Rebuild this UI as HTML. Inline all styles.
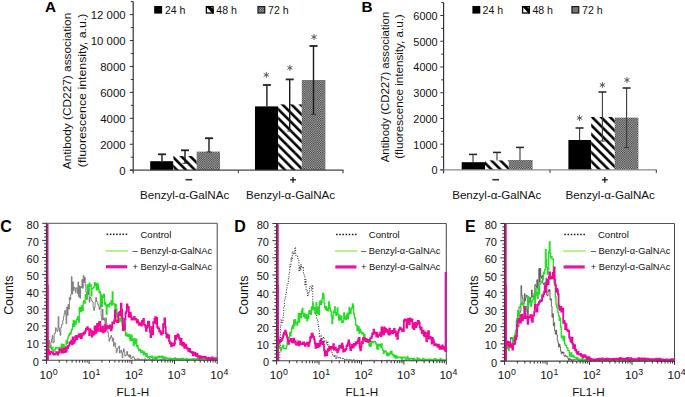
<!DOCTYPE html>
<html><head><meta charset="utf-8"><style>html,body{margin:0;padding:0;background:#fff;overflow:hidden}svg{display:block}text{font-family:"Liberation Sans",sans-serif}</style></head>
<body><svg width="685" height="397" viewBox="0 0 685 397" font-family="Liberation Sans, sans-serif"><defs>
<pattern id="hatch" patternUnits="userSpaceOnUse" width="6.364" height="6.364" patternTransform="rotate(-45)"><rect width="6.364" height="6.364" fill="#fff"/><rect x="3.7" width="2.5" height="6.364" fill="#000"/></pattern>
<pattern id="dots" patternUnits="userSpaceOnUse" width="2.27" height="2.27"><rect width="2.27" height="2.27" fill="#b4b4b4"/><rect width="1.135" height="1.135" fill="#383838"/><rect x="1.135" y="1.135" width="1.135" height="1.135" fill="#383838"/></pattern>
<pattern id="hatchL" patternUnits="userSpaceOnUse" width="8" height="8" patternTransform="rotate(-45)"><rect width="8" height="8" fill="#fff"/><rect width="3" height="8" fill="#000"/></pattern>
<pattern id="dotsL" patternUnits="userSpaceOnUse" width="2" height="2"><rect width="2" height="2" fill="#999"/><rect width="1" height="1" fill="#222"/></pattern>
</defs><rect width="685" height="397" fill="#fff"/><rect x="150.20" y="161.20" width="23.20" height="9.00" fill="#000" />
<rect x="173.40" y="156.00" width="23.30" height="14.20" fill="url(#hatch)" />
<rect x="196.70" y="151.60" width="23.30" height="18.60" fill="url(#dots)" />
<line x1="162.00" y1="154.30" x2="162.00" y2="161.00" stroke="#1a1a1a" stroke-width="1.4" />
<line x1="158.00" y1="154.30" x2="166.00" y2="154.30" stroke="#222" stroke-width="1.8" />
<line x1="185.00" y1="150.30" x2="185.00" y2="163.30" stroke="#1a1a1a" stroke-width="1.4" />
<line x1="181.00" y1="150.30" x2="189.00" y2="150.30" stroke="#222" stroke-width="1.8" />
<line x1="182.50" y1="163.30" x2="187.50" y2="163.30" stroke="#333" stroke-width="1" />
<line x1="209.00" y1="138.20" x2="209.00" y2="152.00" stroke="#1a1a1a" stroke-width="1.4" />
<line x1="205.00" y1="138.20" x2="213.00" y2="138.20" stroke="#222" stroke-width="1.8" />
<line x1="206.50" y1="152.00" x2="211.50" y2="152.00" stroke="#333" stroke-width="1" />
<rect x="255.00" y="106.40" width="23.20" height="63.80" fill="#000" />
<rect x="278.20" y="104.40" width="23.60" height="65.80" fill="url(#hatch)" />
<rect x="301.80" y="80.00" width="23.60" height="90.20" fill="url(#dots)" />
<line x1="266.90" y1="85.00" x2="266.90" y2="106.40" stroke="#1a1a1a" stroke-width="1.4" />
<line x1="262.90" y1="85.00" x2="270.90" y2="85.00" stroke="#222" stroke-width="1.8" />
<line x1="289.70" y1="79.40" x2="289.70" y2="131.00" stroke="#1a1a1a" stroke-width="1.4" />
<line x1="285.70" y1="79.40" x2="293.70" y2="79.40" stroke="#222" stroke-width="1.8" />
<line x1="287.20" y1="131.00" x2="292.20" y2="131.00" stroke="#333" stroke-width="1" />
<line x1="313.50" y1="46.00" x2="313.50" y2="114.40" stroke="#1a1a1a" stroke-width="1.4" />
<line x1="309.50" y1="46.00" x2="317.50" y2="46.00" stroke="#222" stroke-width="1.8" />
<line x1="311.00" y1="114.40" x2="316.00" y2="114.40" stroke="#333" stroke-width="1" />
<path d="M266.30,71.90V77.90M263.70,73.40L268.90,76.40M268.90,73.40L263.70,76.40" stroke="#555" stroke-width="0.95" fill="none"/>
<path d="M289.90,64.80V70.80M287.30,66.30L292.50,69.30M292.50,66.30L287.30,69.30" stroke="#555" stroke-width="0.95" fill="none"/>
<path d="M314.00,34.00V40.00M311.40,35.50L316.60,38.50M316.60,35.50L311.40,38.50" stroke="#555" stroke-width="0.95" fill="none"/>
<line x1="133.20" y1="1.50" x2="133.20" y2="173.60" stroke="#333" stroke-width="1.2" />
<line x1="129.90" y1="170.20" x2="343.50" y2="170.20" stroke="#444" stroke-width="1.2" />
<line x1="238.30" y1="170.20" x2="238.30" y2="173.20" stroke="#333" stroke-width="1" />
<line x1="343.00" y1="170.20" x2="343.00" y2="173.20" stroke="#333" stroke-width="1" />
<line x1="129.90" y1="170.20" x2="133.20" y2="170.20" stroke="#333" stroke-width="1" />
<line x1="130.80" y1="157.23" x2="133.20" y2="157.23" stroke="#333" stroke-width="1" />
<line x1="129.90" y1="144.27" x2="133.20" y2="144.27" stroke="#333" stroke-width="1" />
<line x1="130.80" y1="131.31" x2="133.20" y2="131.31" stroke="#333" stroke-width="1" />
<line x1="129.90" y1="118.34" x2="133.20" y2="118.34" stroke="#333" stroke-width="1" />
<line x1="130.80" y1="105.38" x2="133.20" y2="105.38" stroke="#333" stroke-width="1" />
<line x1="129.90" y1="92.41" x2="133.20" y2="92.41" stroke="#333" stroke-width="1" />
<line x1="130.80" y1="79.44" x2="133.20" y2="79.44" stroke="#333" stroke-width="1" />
<line x1="129.90" y1="66.48" x2="133.20" y2="66.48" stroke="#333" stroke-width="1" />
<line x1="130.80" y1="53.52" x2="133.20" y2="53.52" stroke="#333" stroke-width="1" />
<line x1="129.90" y1="40.55" x2="133.20" y2="40.55" stroke="#333" stroke-width="1" />
<line x1="130.80" y1="27.59" x2="133.20" y2="27.59" stroke="#333" stroke-width="1" />
<line x1="129.90" y1="14.62" x2="133.20" y2="14.62" stroke="#333" stroke-width="1" />
<line x1="130.80" y1="1.66" x2="133.20" y2="1.66" stroke="#333" stroke-width="1" />
<text x="125.60" y="174.60" font-size="11.4" text-anchor="end" font-weight="normal" fill="#111" >0</text>
<text x="125.60" y="148.67" font-size="11.4" text-anchor="end" font-weight="normal" fill="#111" >2000</text>
<text x="125.60" y="122.74" font-size="11.4" text-anchor="end" font-weight="normal" fill="#111" >4000</text>
<text x="125.60" y="96.81" font-size="11.4" text-anchor="end" font-weight="normal" fill="#111" >6000</text>
<text x="125.60" y="70.88" font-size="11.4" text-anchor="end" font-weight="normal" fill="#111" >8000</text>
<text x="125.60" y="44.95" font-size="11.4" text-anchor="end" font-weight="normal" fill="#111" >10 000</text>
<text x="125.60" y="19.02" font-size="11.4" text-anchor="end" font-weight="normal" fill="#111" >12 000</text>
<rect x="154.20" y="6.00" width="7.90" height="7.60" fill="#000" />
<text x="164.90" y="13.60" font-size="10.6" text-anchor="start" font-weight="normal" fill="#111" >24 h</text>
<rect x="206.40" y="6.60" width="6.70" height="6.40" fill="#fff" stroke="#000" stroke-width="1.3"/>
<polygon points="205.80,6.00 210.00,6.00 213.70,9.40 213.70,13.60 212.40,13.60" fill="#000"/>
<text x="216.30" y="13.60" font-size="10.6" text-anchor="start" font-weight="normal" fill="#111" >48 h</text>
<rect x="258.00" y="6.60" width="6.70" height="6.40" fill="url(#dots)" stroke="#222" stroke-width="1.3"/>
<text x="268.00" y="13.60" font-size="10.6" text-anchor="start" font-weight="normal" fill="#111" >72 h</text>
<text transform="translate(71.20,91.00) rotate(-90)" x="0" y="0" font-size="11.8" text-anchor="middle" fill="#111" textLength="156.5" lengthAdjust="spacingAndGlyphs">Antibody (CD227) association</text>
<text transform="translate(85.70,90.40) rotate(-90)" x="0" y="0" font-size="11.8" text-anchor="middle" fill="#111" textLength="153.5" lengthAdjust="spacingAndGlyphs">(fluorescence intensity, a.u.)</text>
<rect x="185.50" y="178.90" width="6.70" height="1.60" fill="#333" />
<line x1="290.10" y1="179.80" x2="295.90" y2="179.80" stroke="#222" stroke-width="1.4" />
<line x1="293.00" y1="176.90" x2="293.00" y2="182.80" stroke="#222" stroke-width="1.4" />
<text x="140.10" y="199.20" font-size="11.5" text-anchor="start" font-weight="normal" fill="#111" textLength="89.1" lengthAdjust="spacingAndGlyphs" >Benzyl-&#945;-GalNAc</text>
<text x="246.00" y="199.20" font-size="11.5" text-anchor="start" font-weight="normal" fill="#111" textLength="89.0" lengthAdjust="spacingAndGlyphs" >Benzyl-&#945;-GalNAc</text>
<text x="44.90" y="12.30" font-size="15.3" text-anchor="start" font-weight="bold" fill="#000" >A</text>
<rect x="461.70" y="162.20" width="23.30" height="7.70" fill="#000" />
<rect x="485.00" y="160.40" width="23.80" height="9.50" fill="url(#hatch)" />
<rect x="508.80" y="160.00" width="23.80" height="9.90" fill="url(#dots)" />
<line x1="473.00" y1="154.40" x2="473.00" y2="162.00" stroke="#3a3a3a" stroke-width="1.1" />
<line x1="469.00" y1="154.40" x2="477.00" y2="154.40" stroke="#222" stroke-width="1.5" />
<line x1="497.00" y1="152.40" x2="497.00" y2="160.50" stroke="#3a3a3a" stroke-width="1.1" />
<line x1="493.00" y1="152.40" x2="501.00" y2="152.40" stroke="#222" stroke-width="1.5" />
<line x1="520.00" y1="147.40" x2="520.00" y2="160.00" stroke="#3a3a3a" stroke-width="1.1" />
<line x1="516.00" y1="147.40" x2="524.00" y2="147.40" stroke="#222" stroke-width="1.5" />
<rect x="568.40" y="140.00" width="22.80" height="29.90" fill="#000" />
<rect x="591.20" y="117.00" width="23.60" height="52.90" fill="url(#hatch)" />
<rect x="614.80" y="117.60" width="23.60" height="52.30" fill="url(#dots)" />
<line x1="579.60" y1="128.00" x2="579.60" y2="140.00" stroke="#3a3a3a" stroke-width="1.1" />
<line x1="575.60" y1="128.00" x2="583.60" y2="128.00" stroke="#222" stroke-width="1.5" />
<line x1="602.40" y1="92.00" x2="602.40" y2="141.00" stroke="#3a3a3a" stroke-width="1.1" />
<line x1="598.40" y1="92.00" x2="606.40" y2="92.00" stroke="#222" stroke-width="1.5" />
<line x1="599.90" y1="141.00" x2="604.90" y2="141.00" stroke="#333" stroke-width="1" />
<line x1="626.60" y1="88.00" x2="626.60" y2="147.60" stroke="#3a3a3a" stroke-width="1.1" />
<line x1="622.60" y1="88.00" x2="630.60" y2="88.00" stroke="#222" stroke-width="1.5" />
<line x1="624.10" y1="147.60" x2="629.10" y2="147.60" stroke="#333" stroke-width="1" />
<path d="M579.60,115.00V121.00M577.00,116.50L582.20,119.50M582.20,116.50L577.00,119.50" stroke="#555" stroke-width="0.95" fill="none"/>
<path d="M602.40,82.00V88.00M599.80,83.50L605.00,86.50M605.00,83.50L599.80,86.50" stroke="#555" stroke-width="0.95" fill="none"/>
<path d="M627.00,77.00V83.00M624.40,78.50L629.60,81.50M629.60,78.50L624.40,81.50" stroke="#555" stroke-width="0.95" fill="none"/>
<line x1="443.60" y1="2.40" x2="443.60" y2="173.30" stroke="#333" stroke-width="1.2" />
<line x1="440.30" y1="169.90" x2="656.50" y2="169.90" stroke="#8a8a8a" stroke-width="1.2" />
<line x1="550.00" y1="169.90" x2="550.00" y2="172.90" stroke="#333" stroke-width="1" />
<line x1="656.30" y1="169.90" x2="656.30" y2="172.90" stroke="#333" stroke-width="1" />
<line x1="440.30" y1="169.90" x2="443.60" y2="169.90" stroke="#333" stroke-width="1" />
<line x1="441.20" y1="157.03" x2="443.60" y2="157.03" stroke="#333" stroke-width="1" />
<line x1="440.30" y1="144.17" x2="443.60" y2="144.17" stroke="#333" stroke-width="1" />
<line x1="441.20" y1="131.31" x2="443.60" y2="131.31" stroke="#333" stroke-width="1" />
<line x1="440.30" y1="118.44" x2="443.60" y2="118.44" stroke="#333" stroke-width="1" />
<line x1="441.20" y1="105.58" x2="443.60" y2="105.58" stroke="#333" stroke-width="1" />
<line x1="440.30" y1="92.71" x2="443.60" y2="92.71" stroke="#333" stroke-width="1" />
<line x1="441.20" y1="79.85" x2="443.60" y2="79.85" stroke="#333" stroke-width="1" />
<line x1="440.30" y1="66.98" x2="443.60" y2="66.98" stroke="#333" stroke-width="1" />
<line x1="441.20" y1="54.12" x2="443.60" y2="54.12" stroke="#333" stroke-width="1" />
<line x1="440.30" y1="41.25" x2="443.60" y2="41.25" stroke="#333" stroke-width="1" />
<line x1="441.20" y1="28.39" x2="443.60" y2="28.39" stroke="#333" stroke-width="1" />
<line x1="440.30" y1="15.52" x2="443.60" y2="15.52" stroke="#333" stroke-width="1" />
<line x1="441.20" y1="2.66" x2="443.60" y2="2.66" stroke="#333" stroke-width="1" />
<text x="437.60" y="174.30" font-size="10.9" text-anchor="end" font-weight="normal" fill="#111" >0</text>
<text x="437.60" y="148.57" font-size="10.9" text-anchor="end" font-weight="normal" fill="#111" >1000</text>
<text x="437.60" y="122.84" font-size="10.9" text-anchor="end" font-weight="normal" fill="#111" >2000</text>
<text x="437.60" y="97.11" font-size="10.9" text-anchor="end" font-weight="normal" fill="#111" >3000</text>
<text x="437.60" y="71.38" font-size="10.9" text-anchor="end" font-weight="normal" fill="#111" >4000</text>
<text x="437.60" y="45.65" font-size="10.9" text-anchor="end" font-weight="normal" fill="#111" >5000</text>
<text x="437.60" y="19.92" font-size="10.9" text-anchor="end" font-weight="normal" fill="#111" >6000</text>
<rect x="472.40" y="6.00" width="7.90" height="7.60" fill="#000" />
<text x="482.50" y="13.60" font-size="10.6" text-anchor="start" font-weight="normal" fill="#111" >24 h</text>
<rect x="522.60" y="6.60" width="6.70" height="6.40" fill="#fff" stroke="#000" stroke-width="1.3"/>
<polygon points="522.00,6.00 526.20,6.00 529.90,9.40 529.90,13.60 528.60,13.60" fill="#000"/>
<text x="532.40" y="13.60" font-size="10.6" text-anchor="start" font-weight="normal" fill="#111" >48 h</text>
<rect x="572.00" y="6.60" width="6.70" height="6.40" fill="url(#dots)" stroke="#222" stroke-width="1.3"/>
<text x="582.00" y="13.60" font-size="10.6" text-anchor="start" font-weight="normal" fill="#111" >72 h</text>
<text transform="translate(389.00,87.00) rotate(-90)" x="0" y="0" font-size="11.5" text-anchor="middle" fill="#111" textLength="150.5" lengthAdjust="spacingAndGlyphs">Antibody (CD227) association</text>
<text transform="translate(403.20,86.50) rotate(-90)" x="0" y="0" font-size="11.5" text-anchor="middle" fill="#111" textLength="144.5" lengthAdjust="spacingAndGlyphs">(fluorescence intensity, a.u.)</text>
<rect x="492.30" y="178.90" width="6.70" height="1.60" fill="#333" />
<line x1="601.90" y1="179.80" x2="607.70" y2="179.80" stroke="#222" stroke-width="1.4" />
<line x1="604.80" y1="176.90" x2="604.80" y2="182.80" stroke="#222" stroke-width="1.4" />
<text x="452.20" y="199.20" font-size="11.5" text-anchor="start" font-weight="normal" fill="#111" textLength="89.00000000000006" lengthAdjust="spacingAndGlyphs" >Benzyl-&#945;-GalNAc</text>
<text x="565.60" y="199.20" font-size="11.5" text-anchor="start" font-weight="normal" fill="#111" textLength="89.29999999999995" lengthAdjust="spacingAndGlyphs" >Benzyl-&#945;-GalNAc</text>
<text x="361.60" y="12.30" font-size="15.3" text-anchor="start" font-weight="bold" fill="#000" >B</text>
<line x1="46.40" y1="223.30" x2="217.20" y2="223.30" stroke="#555" stroke-width="1" />
<line x1="217.20" y1="223.30" x2="217.20" y2="360.20" stroke="#444" stroke-width="1" />
<path d="M47.60,348.49H48.26V342.96H48.92V340.40H49.58V344.69H50.24V346.85H50.90V341.95H51.56V338.96H52.22V335.59H52.88V342.86H53.54V342.16H54.20V333.48H54.86V333.23H55.52V327.75H56.18V328.40H56.84V331.42H57.50V330.72H58.16V316.62H58.82V327.91H59.48V331.63H60.14V335.42H60.80V327.52H61.46V324.66H62.12V324.38H62.78V320.42H63.44V316.70H64.10V313.54H64.76V310.42H65.42V314.05H66.08V323.70H66.74V307.08H67.40V315.32H68.06V304.49H68.72V309.09H69.38V297.50H70.04V299.83H70.70V294.54H71.36V276.69H72.02V294.08H72.68V281.89H73.34V290.51H74.00V287.20H74.66V288.20H75.32V292.58H75.98V287.82H76.64V287.85H77.30V293.58H77.96V281.96H78.62V296.93H79.28V285.90H79.94V298.33H80.60V286.41H81.26V287.63H81.92V279.47H82.58V288.30H83.24V275.53H83.90V282.47H84.56V277.28H85.22V285.95H85.88V292.58H86.54V299.79H87.20V291.36H87.86V294.62H88.52V288.79H89.18V302.13H89.84V297.12H90.50V298.08H91.16V300.10H91.82V301.21H92.48V302.02H93.14V307.28H93.80V310.35H94.46V307.36H95.12V302.27H95.78V297.64H96.44V301.40H97.10V301.84H97.76V304.32H98.42V305.68H99.08V309.45H99.74V307.11H100.40V302.58H101.06V315.80H101.72V320.27H102.38V309.28H103.04V319.71H103.70V318.03H104.36V320.37H105.02V331.64H105.68V317.84H106.34V323.12H107.00V332.08H107.66V331.95H108.32V336.56H108.98V341.25H109.64V338.90H110.30V337.65H110.96V335.53H111.62V337.55H112.28V341.10H112.94V338.11H113.60V346.25H114.26V342.68H114.92V343.11H115.58V347.86H116.24V352.61H116.90V350.68H117.56V348.18H118.22V348.03H118.88V346.10H119.54V353.02H120.20V351.17H120.86V350.28H121.52V352.64H122.18V357.80H122.84V351.45H123.50V348.87H124.16V351.99H124.82V356.12H125.48V355.55H126.14V354.82H126.80V351.45H127.46V355.06H128.12V356.29H128.78V354.65H129.44V357.41H130.10V355.17H130.76V358.54H131.42V358.41H132.08V357.13H132.74V356.51H133.40V357.55H134.06V358.09H134.72V360.20H135.38V359.38H136.04V359.39H136.70V359.44H137.36V358.64H138.02V359.51H138.68V358.85H139.34V359.49H140.00V359.87H140.66V359.62H141.32V359.45H141.98V359.22H142.64V359.97H143.30V359.84H143.96V360.20H144.62V358.82H145.28V358.91H145.94V359.83H146.60V360.00H147.26V360.20H147.92V359.64H148.58V359.63H149.24V358.52H149.90V359.61H150.56V360.19H151.22V360.20H151.88V358.97H152.54V359.66H153.20V360.20H153.86V359.68H154.52V360.20H155.18V357.83H155.84V359.16H156.50V359.47H157.16V359.90H157.82V360.20H158.48V359.88H159.14V360.20H159.80V359.48H160.46V360.20H161.12V360.20H161.78V359.15H162.44V358.91H163.10V360.20H163.76V360.20H164.42V359.35H165.08V359.37H165.74V360.20H166.40V360.20H167.06V360.20H167.72V360.20H168.38V360.20H169.04V359.18H169.70V359.50H170.36V358.73H171.02V359.94H171.68V359.97H172.34V360.20H173.00V359.98H173.66V360.20H174.32V360.20H174.98V359.53H175.64V359.11H176.30V359.46H176.96V359.18H177.62V359.80H178.28V360.20H178.94V359.90H179.60V360.16H180.26V360.20H180.92V360.20H181.58V360.20H182.24V359.97H182.90V359.89H183.56V360.20H184.22V359.18H184.88V359.89H185.54V359.66H186.20V359.31H186.86V360.20H187.52V360.20H188.18V359.58H188.84V360.20H189.50V359.28H190.16V359.83H190.82V359.46H191.48V359.60H192.14V360.20H192.80V359.63H193.46V360.20H194.12V360.20H194.78V360.20H195.44V359.62H196.10V359.56H196.76V359.50H197.42V360.20H198.08V360.20H198.74V360.20H199.40V360.14H200.06V359.75H200.72V360.20H201.38V359.96H202.04V359.97H202.70V359.54H203.36V360.20H204.02V360.20H204.68V360.20H205.34V359.14H206.00V359.51H206.66V360.20H207.32V360.01H207.98V360.08H208.64V360.03H209.30V360.20H209.96V360.20H210.62V360.20H211.28V360.20H211.94V359.24H212.60V359.87H213.26V360.14H213.92V360.20H214.58V360.15H215.24V359.99H215.90V360.20H216.56V360.09H217.20" fill="none" stroke="#666" stroke-width="0.8" stroke-linejoin="miter" />
<path d="M47.60,348.97H48.26V346.23H48.92V347.18H49.58V347.61H50.24V345.71H50.90V348.06H51.56V349.45H52.22V347.24H52.88V350.33H53.54V351.15H54.20V350.99H54.86V349.34H55.52V347.32H56.18V347.78H56.84V348.13H57.50V347.90H58.16V348.91H58.82V350.06H59.48V347.62H60.14V347.21H60.80V347.83H61.46V344.08H62.12V345.89H62.78V347.31H63.44V344.72H64.10V347.71H64.76V350.54H65.42V347.61H66.08V340.96H66.74V343.28H67.40V338.96H68.06V336.93H68.72V335.39H69.38V333.43H70.04V334.23H70.70V332.48H71.36V330.01H72.02V328.81H72.68V324.02H73.34V320.77H74.00V326.29H74.66V321.07H75.32V324.25H75.98V322.26H76.64V319.50H77.30V316.78H77.96V316.79H78.62V321.99H79.28V307.62H79.94V311.61H80.60V311.55H81.26V305.90H81.92V308.93H82.58V310.52H83.24V302.12H83.90V300.53H84.56V303.16H85.22V295.14H85.88V294.65H86.54V298.15H87.20V284.99H87.86V287.45H88.52V289.78H89.18V283.09H89.84V286.28H90.50V284.85H91.16V295.75H91.82V288.43H92.48V288.32H93.14V287.88H93.80V286.83H94.46V282.67H95.12V283.76H95.78V285.43H96.44V289.87H97.10V283.39H97.76V285.17H98.42V289.56H99.08V292.77H99.74V291.58H100.40V304.60H101.06V294.91H101.72V306.33H102.38V297.58H103.04V295.98H103.70V294.37H104.36V304.13H105.02V302.32H105.68V305.41H106.34V314.08H107.00V305.01H107.66V306.21H108.32V304.60H108.98V306.80H109.64V303.50H110.30V304.01H110.96V300.83H111.62V305.07H112.28V291.98H112.94V303.56H113.60V303.64H114.26V305.15H114.92V309.97H115.58V304.44H116.24V309.08H116.90V316.98H117.56V314.33H118.22V312.68H118.88V321.86H119.54V318.47H120.20V320.96H120.86V314.90H121.52V322.03H122.18V325.97H122.84V327.99H123.50V323.17H124.16V330.90H124.82V324.97H125.48V335.58H126.14V333.19H126.80V334.30H127.46V336.30H128.12V335.86H128.78V334.51H129.44V338.29H130.10V340.69H130.76V335.21H131.42V335.49H132.08V340.63H132.74V339.04H133.40V345.53H134.06V338.59H134.72V343.92H135.38V343.19H136.04V339.07H136.70V346.64H137.36V345.39H138.02V348.36H138.68V350.67H139.34V350.58H140.00V349.46H140.66V352.40H141.32V351.99H141.98V350.84H142.64V352.67H143.30V354.73H143.96V352.02H144.62V354.29H145.28V353.29H145.94V356.23H146.60V353.78H147.26V357.12H147.92V357.77H148.58V356.87H149.24V357.14H149.90V356.76H150.56V357.53H151.22V356.65H151.88V356.20H152.54V357.86H153.20V358.49H153.86V357.83H154.52V357.02H155.18V357.12H155.84V357.98H156.50V358.34H157.16V357.50H157.82V356.62H158.48V357.81H159.14V356.07H159.80V356.82H160.46V356.70H161.12V357.58H161.78V356.10H162.44V357.28H163.10V358.58H163.76V356.95H164.42V358.00H165.08V357.05H165.74V357.82H166.40V358.48H167.06V358.08H167.72V358.62H168.38V358.94H169.04V358.55H169.70V358.22H170.36V358.77H171.02V358.98H171.68V359.26H172.34V358.70H173.00V358.86H173.66V358.52H174.32V358.82H174.98V357.94H175.64V359.80H176.30V359.04H176.96V358.76H177.62V358.58H178.28V359.79H178.94V359.64H179.60V359.06H180.26V358.53H180.92V358.51H181.58V359.80H182.24V359.00H182.90V358.50H183.56V359.06H184.22V359.58H184.88V359.43H185.54V359.73H186.20V358.52H186.86V359.22H187.52V359.31H188.18V359.53H188.84V359.18H189.50V359.55H190.16V359.59H190.82V359.15H191.48V359.24H192.14V358.92H192.80V359.07H193.46V358.59H194.12V359.17H194.78V359.04H195.44V359.06H196.10V359.54H196.76V358.62H197.42V359.44H198.08V359.92H198.74V358.61H199.40V358.89H200.06V359.46H200.72V358.77H201.38V358.77H202.04V358.89H202.70V359.75H203.36V359.14H204.02V359.70H204.68V359.51H205.34V359.49H206.00V359.62H206.66V359.03H207.32V359.61H207.98V358.98H208.64V359.19H209.30V359.54H209.96V359.20H210.62V358.98H211.28V358.78H211.94V359.40H212.60V358.54H213.26V359.05H213.92V358.76H214.58V359.89H215.24V359.77H215.90V358.80H216.56V359.42H217.20" fill="none" stroke="#22dd22" stroke-width="1.3" stroke-linejoin="miter" />
<path d="M47.60,351.76H48.26V349.61H48.92V352.69H49.58V354.26H50.24V351.85H50.90V351.68H51.56V352.30H52.22V352.44H52.88V353.50H53.54V354.36H54.20V354.58H54.86V353.83H55.52V353.90H56.18V352.22H56.84V352.45H57.50V354.61H58.16V352.10H58.82V352.60H59.48V350.44H60.14V349.19H60.80V349.79H61.46V352.53H62.12V349.11H62.78V352.66H63.44V348.58H64.10V352.05H64.76V351.73H65.42V347.49H66.08V351.53H66.74V347.42H67.40V347.98H68.06V345.89H68.72V345.74H69.38V342.32H70.04V343.50H70.70V341.57H71.36V340.30H72.02V344.35H72.68V337.36H73.34V340.31H74.00V342.85H74.66V340.32H75.32V336.61H75.98V335.87H76.64V339.11H77.30V336.95H77.96V336.42H78.62V334.42H79.28V336.82H79.94V334.08H80.60V338.10H81.26V337.50H81.92V334.10H82.58V333.43H83.24V334.71H83.90V332.66H84.56V333.08H85.22V330.96H85.88V328.74H86.54V329.10H87.20V327.09H87.86V329.04H88.52V329.39H89.18V335.11H89.84V329.07H90.50V331.13H91.16V331.00H91.82V336.61H92.48V332.51H93.14V332.01H93.80V334.52H94.46V326.94H95.12V326.28H95.78V332.85H96.44V328.00H97.10V323.94H97.76V330.97H98.42V324.42H99.08V322.08H99.74V322.01H100.40V331.31H101.06V331.18H101.72V328.52H102.38V326.44H103.04V332.45H103.70V330.78H104.36V331.39H105.02V325.19H105.68V329.53H106.34V326.91H107.00V327.10H107.66V326.14H108.32V328.44H108.98V328.23H109.64V325.37H110.30V326.45H110.96V330.41H111.62V327.77H112.28V322.47H112.94V323.25H113.60V323.32H114.26V320.26H114.92V310.44H115.58V321.29H116.24V320.67H116.90V321.67H117.56V322.15H118.22V315.06H118.88V313.27H119.54V311.97H120.20V315.08H120.86V303.75H121.52V309.60H122.18V318.21H122.84V330.19H123.50V324.66H124.16V329.03H124.82V319.23H125.48V313.05H126.14V311.34H126.80V304.47H127.46V307.91H128.12V306.89H128.78V316.68H129.44V316.85H130.10V312.70H130.76V315.89H131.42V319.13H132.08V319.64H132.74V318.79H133.40V318.24H134.06V316.94H134.72V319.60H135.38V318.85H136.04V319.59H136.70V322.53H137.36V320.07H138.02V322.51H138.68V324.84H139.34V324.13H140.00V323.06H140.66V324.48H141.32V325.59H141.98V320.89H142.64V321.82H143.30V318.79H143.96V324.54H144.62V324.86H145.28V326.90H145.94V330.96H146.60V327.83H147.26V325.70H147.92V321.76H148.58V321.94H149.24V326.86H149.90V331.60H150.56V337.12H151.22V333.88H151.88V327.04H152.54V334.24H153.20V322.08H153.86V322.73H154.52V318.83H155.18V317.24H155.84V323.66H156.50V318.01H157.16V326.92H157.82V328.25H158.48V328.28H159.14V331.26H159.80V330.74H160.46V333.06H161.12V334.70H161.78V332.45H162.44V333.19H163.10V324.19H163.76V324.46H164.42V318.47H165.08V327.15H165.74V333.07H166.40V337.11H167.06V334.40H167.72V337.86H168.38V335.33H169.04V341.00H169.70V343.31H170.36V342.54H171.02V346.44H171.68V344.82H172.34V343.53H173.00V343.33H173.66V345.34H174.32V343.70H174.98V335.80H175.64V339.45H176.30V336.78H176.96V335.61H177.62V334.42H178.28V335.56H178.94V338.12H179.60V339.66H180.26V344.43H180.92V338.53H181.58V342.74H182.24V345.72H182.90V342.87H183.56V343.28H184.22V347.89H184.88V347.18H185.54V344.77H186.20V347.39H186.86V348.60H187.52V348.47H188.18V350.51H188.84V351.11H189.50V348.81H190.16V351.68H190.82V352.10H191.48V351.80H192.14V353.20H192.80V355.31H193.46V352.35H194.12V354.75H194.78V352.97H195.44V354.58H196.10V356.26H196.76V354.00H197.42V355.94H198.08V356.81H198.74V356.21H199.40V358.32H200.06V356.21H200.72V357.39H201.38V357.17H202.04V357.88H202.70V356.82H203.36V357.23H204.02V356.85H204.68V356.61H205.34V357.75H206.00V358.03H206.66V358.04H207.32V358.89H207.98V358.76H208.64V357.96H209.30V358.95H209.96V359.61H210.62V358.64H211.28V358.27H211.94V357.52H212.60V358.86H213.26V359.00H213.92V358.37H214.58V358.52H215.24V358.27H215.90V358.74H216.56V358.30H217.20" fill="none" stroke="#f0069a" stroke-width="1.8" stroke-linejoin="miter" />
<line x1="47.50" y1="223.80" x2="47.50" y2="360.20" stroke="#d0108a" stroke-width="2.0" />
<line x1="47.50" y1="284.70" x2="47.50" y2="360.20" stroke="#ee069a" stroke-width="2.3" />
<line x1="46.40" y1="222.80" x2="46.40" y2="360.70" stroke="#333" stroke-width="1" />
<line x1="42.40" y1="360.20" x2="217.70" y2="360.20" stroke="#444" stroke-width="1.1" />
<line x1="42.20" y1="360.20" x2="46.40" y2="360.20" stroke="#333" stroke-width="1" />
<text x="38.80" y="365.60" font-size="11" text-anchor="end" font-weight="normal" fill="#111" >0</text>
<line x1="44.10" y1="356.78" x2="46.40" y2="356.78" stroke="#333" stroke-width="1" />
<line x1="44.10" y1="353.36" x2="46.40" y2="353.36" stroke="#333" stroke-width="1" />
<line x1="44.10" y1="349.93" x2="46.40" y2="349.93" stroke="#333" stroke-width="1" />
<line x1="44.10" y1="346.51" x2="46.40" y2="346.51" stroke="#333" stroke-width="1" />
<line x1="42.20" y1="343.09" x2="46.40" y2="343.09" stroke="#333" stroke-width="1" />
<text x="38.80" y="348.49" font-size="11" text-anchor="end" font-weight="normal" fill="#111" >10</text>
<line x1="44.10" y1="339.66" x2="46.40" y2="339.66" stroke="#333" stroke-width="1" />
<line x1="44.10" y1="336.24" x2="46.40" y2="336.24" stroke="#333" stroke-width="1" />
<line x1="44.10" y1="332.82" x2="46.40" y2="332.82" stroke="#333" stroke-width="1" />
<line x1="44.10" y1="329.40" x2="46.40" y2="329.40" stroke="#333" stroke-width="1" />
<line x1="42.20" y1="325.98" x2="46.40" y2="325.98" stroke="#333" stroke-width="1" />
<text x="38.80" y="331.38" font-size="11" text-anchor="end" font-weight="normal" fill="#111" >20</text>
<line x1="44.10" y1="322.55" x2="46.40" y2="322.55" stroke="#333" stroke-width="1" />
<line x1="44.10" y1="319.13" x2="46.40" y2="319.13" stroke="#333" stroke-width="1" />
<line x1="44.10" y1="315.71" x2="46.40" y2="315.71" stroke="#333" stroke-width="1" />
<line x1="44.10" y1="312.28" x2="46.40" y2="312.28" stroke="#333" stroke-width="1" />
<line x1="42.20" y1="308.86" x2="46.40" y2="308.86" stroke="#333" stroke-width="1" />
<text x="38.80" y="314.26" font-size="11" text-anchor="end" font-weight="normal" fill="#111" >30</text>
<line x1="44.10" y1="305.44" x2="46.40" y2="305.44" stroke="#333" stroke-width="1" />
<line x1="44.10" y1="302.02" x2="46.40" y2="302.02" stroke="#333" stroke-width="1" />
<line x1="44.10" y1="298.60" x2="46.40" y2="298.60" stroke="#333" stroke-width="1" />
<line x1="44.10" y1="295.17" x2="46.40" y2="295.17" stroke="#333" stroke-width="1" />
<line x1="42.20" y1="291.75" x2="46.40" y2="291.75" stroke="#333" stroke-width="1" />
<text x="38.80" y="297.15" font-size="11" text-anchor="end" font-weight="normal" fill="#111" >40</text>
<line x1="44.10" y1="288.33" x2="46.40" y2="288.33" stroke="#333" stroke-width="1" />
<line x1="44.10" y1="284.90" x2="46.40" y2="284.90" stroke="#333" stroke-width="1" />
<line x1="44.10" y1="281.48" x2="46.40" y2="281.48" stroke="#333" stroke-width="1" />
<line x1="44.10" y1="278.06" x2="46.40" y2="278.06" stroke="#333" stroke-width="1" />
<line x1="42.20" y1="274.64" x2="46.40" y2="274.64" stroke="#333" stroke-width="1" />
<text x="38.80" y="280.04" font-size="11" text-anchor="end" font-weight="normal" fill="#111" >50</text>
<line x1="44.10" y1="271.22" x2="46.40" y2="271.22" stroke="#333" stroke-width="1" />
<line x1="44.10" y1="267.79" x2="46.40" y2="267.79" stroke="#333" stroke-width="1" />
<line x1="44.10" y1="264.37" x2="46.40" y2="264.37" stroke="#333" stroke-width="1" />
<line x1="44.10" y1="260.95" x2="46.40" y2="260.95" stroke="#333" stroke-width="1" />
<line x1="42.20" y1="257.52" x2="46.40" y2="257.52" stroke="#333" stroke-width="1" />
<text x="38.80" y="262.92" font-size="11" text-anchor="end" font-weight="normal" fill="#111" >60</text>
<line x1="44.10" y1="254.10" x2="46.40" y2="254.10" stroke="#333" stroke-width="1" />
<line x1="44.10" y1="250.68" x2="46.40" y2="250.68" stroke="#333" stroke-width="1" />
<line x1="44.10" y1="247.26" x2="46.40" y2="247.26" stroke="#333" stroke-width="1" />
<line x1="44.10" y1="243.84" x2="46.40" y2="243.84" stroke="#333" stroke-width="1" />
<line x1="42.20" y1="240.41" x2="46.40" y2="240.41" stroke="#333" stroke-width="1" />
<text x="38.80" y="245.81" font-size="11" text-anchor="end" font-weight="normal" fill="#111" >70</text>
<line x1="44.10" y1="236.99" x2="46.40" y2="236.99" stroke="#333" stroke-width="1" />
<line x1="44.10" y1="233.57" x2="46.40" y2="233.57" stroke="#333" stroke-width="1" />
<line x1="44.10" y1="230.15" x2="46.40" y2="230.15" stroke="#333" stroke-width="1" />
<line x1="44.10" y1="226.72" x2="46.40" y2="226.72" stroke="#333" stroke-width="1" />
<line x1="42.20" y1="223.30" x2="46.40" y2="223.30" stroke="#333" stroke-width="1" />
<text x="38.80" y="228.70" font-size="11" text-anchor="end" font-weight="normal" fill="#111" >80</text>
<line x1="46.40" y1="360.20" x2="46.40" y2="364.00" stroke="#333" stroke-width="1" />
<line x1="59.25" y1="360.20" x2="59.25" y2="362.60" stroke="#333" stroke-width="1" />
<line x1="66.77" y1="360.20" x2="66.77" y2="362.60" stroke="#333" stroke-width="1" />
<line x1="72.11" y1="360.20" x2="72.11" y2="362.60" stroke="#333" stroke-width="1" />
<line x1="76.25" y1="360.20" x2="76.25" y2="362.60" stroke="#333" stroke-width="1" />
<line x1="79.63" y1="360.20" x2="79.63" y2="362.60" stroke="#333" stroke-width="1" />
<line x1="82.49" y1="360.20" x2="82.49" y2="362.60" stroke="#333" stroke-width="1" />
<line x1="84.96" y1="360.20" x2="84.96" y2="362.60" stroke="#333" stroke-width="1" />
<line x1="87.15" y1="360.20" x2="87.15" y2="362.60" stroke="#333" stroke-width="1" />
<line x1="89.10" y1="360.20" x2="89.10" y2="364.00" stroke="#333" stroke-width="1" />
<line x1="101.95" y1="360.20" x2="101.95" y2="362.60" stroke="#333" stroke-width="1" />
<line x1="109.47" y1="360.20" x2="109.47" y2="362.60" stroke="#333" stroke-width="1" />
<line x1="114.81" y1="360.20" x2="114.81" y2="362.60" stroke="#333" stroke-width="1" />
<line x1="118.95" y1="360.20" x2="118.95" y2="362.60" stroke="#333" stroke-width="1" />
<line x1="122.33" y1="360.20" x2="122.33" y2="362.60" stroke="#333" stroke-width="1" />
<line x1="125.19" y1="360.20" x2="125.19" y2="362.60" stroke="#333" stroke-width="1" />
<line x1="127.66" y1="360.20" x2="127.66" y2="362.60" stroke="#333" stroke-width="1" />
<line x1="129.85" y1="360.20" x2="129.85" y2="362.60" stroke="#333" stroke-width="1" />
<line x1="131.80" y1="360.20" x2="131.80" y2="364.00" stroke="#333" stroke-width="1" />
<line x1="144.65" y1="360.20" x2="144.65" y2="362.60" stroke="#333" stroke-width="1" />
<line x1="152.17" y1="360.20" x2="152.17" y2="362.60" stroke="#333" stroke-width="1" />
<line x1="157.51" y1="360.20" x2="157.51" y2="362.60" stroke="#333" stroke-width="1" />
<line x1="161.65" y1="360.20" x2="161.65" y2="362.60" stroke="#333" stroke-width="1" />
<line x1="165.03" y1="360.20" x2="165.03" y2="362.60" stroke="#333" stroke-width="1" />
<line x1="167.89" y1="360.20" x2="167.89" y2="362.60" stroke="#333" stroke-width="1" />
<line x1="170.36" y1="360.20" x2="170.36" y2="362.60" stroke="#333" stroke-width="1" />
<line x1="172.55" y1="360.20" x2="172.55" y2="362.60" stroke="#333" stroke-width="1" />
<line x1="174.50" y1="360.20" x2="174.50" y2="364.00" stroke="#333" stroke-width="1" />
<line x1="187.35" y1="360.20" x2="187.35" y2="362.60" stroke="#333" stroke-width="1" />
<line x1="194.87" y1="360.20" x2="194.87" y2="362.60" stroke="#333" stroke-width="1" />
<line x1="200.21" y1="360.20" x2="200.21" y2="362.60" stroke="#333" stroke-width="1" />
<line x1="204.35" y1="360.20" x2="204.35" y2="362.60" stroke="#333" stroke-width="1" />
<line x1="207.73" y1="360.20" x2="207.73" y2="362.60" stroke="#333" stroke-width="1" />
<line x1="210.59" y1="360.20" x2="210.59" y2="362.60" stroke="#333" stroke-width="1" />
<line x1="213.06" y1="360.20" x2="213.06" y2="362.60" stroke="#333" stroke-width="1" />
<line x1="215.25" y1="360.20" x2="215.25" y2="362.60" stroke="#333" stroke-width="1" />
<line x1="217.20" y1="360.20" x2="217.20" y2="364.00" stroke="#333" stroke-width="1" />
<text x="39.50" y="379.0" font-size="11.6" fill="#111">10<tspan font-size="8.8" dy="-4.5" dx="0.3">0</tspan></text>
<text x="82.20" y="379.0" font-size="11.6" fill="#111">10<tspan font-size="8.8" dy="-4.5" dx="0.3">1</tspan></text>
<text x="124.90" y="379.0" font-size="11.6" fill="#111">10<tspan font-size="8.8" dy="-4.5" dx="0.3">2</tspan></text>
<text x="167.60" y="379.0" font-size="11.6" fill="#111">10<tspan font-size="8.8" dy="-4.5" dx="0.3">3</tspan></text>
<text x="210.30" y="379.0" font-size="11.6" fill="#111">10<tspan font-size="8.8" dy="-4.5" dx="0.3">4</tspan></text>
<text x="116.60" y="395.60" font-size="11" text-anchor="start" font-weight="normal" fill="#111" textLength="32.5" lengthAdjust="spacingAndGlyphs" >FL1-H</text>
<text transform="translate(12.60,295.2) rotate(-90)" font-size="12" text-anchor="middle" fill="#111" textLength="39.3" lengthAdjust="spacingAndGlyphs">Counts</text>
<rect x="106.65" y="233.55" width="1.50" height="1.50" fill="#111" />
<rect x="109.82" y="233.55" width="1.50" height="1.50" fill="#111" />
<rect x="112.99" y="233.55" width="1.50" height="1.50" fill="#111" />
<rect x="116.16" y="233.55" width="1.50" height="1.50" fill="#111" />
<rect x="119.33" y="233.55" width="1.50" height="1.50" fill="#111" />
<rect x="122.50" y="233.55" width="1.50" height="1.50" fill="#111" />
<rect x="125.67" y="233.55" width="1.50" height="1.50" fill="#111" />
<line x1="105.50" y1="250.90" x2="128.00" y2="250.90" stroke="#b5f08a" stroke-width="2.0" />
<line x1="105.90" y1="266.75" x2="127.00" y2="266.75" stroke="#ec12a8" stroke-width="3.2" />
<text x="140.40" y="237.70" font-size="9.6" text-anchor="start" font-weight="normal" fill="#111" >Control</text>
<text x="132.60" y="253.80" font-size="9.4" text-anchor="start" font-weight="normal" fill="#111" textLength="79.5" lengthAdjust="spacingAndGlyphs" >&#8211; Benzyl-&#945;-GalNAc</text>
<text x="132.60" y="269.80" font-size="9.4" text-anchor="start" font-weight="normal" fill="#111" textLength="79.5" lengthAdjust="spacingAndGlyphs" >+ Benzyl-&#945;-GalNAc</text>
<text x="0.20" y="231.60" font-size="16" text-anchor="start" font-weight="bold" fill="#000" >C</text>
<line x1="276.60" y1="223.50" x2="446.30" y2="223.50" stroke="#555" stroke-width="1" />
<line x1="446.30" y1="223.50" x2="446.30" y2="360.80" stroke="#444" stroke-width="1" />
<path d="M277.80,360.58H278.46V360.43H279.12V360.80H279.78V351.78H280.44V326.06H281.10V319.43H281.76V321.25H282.42V322.52H283.08V315.33H283.74V307.65H284.40V299.93H285.06V297.98H285.72V294.44H286.38V289.50H287.04V283.89H287.70V283.62H288.36V277.65H289.02V273.24H289.68V264.73H290.34V266.55H291.00V257.38H291.66V260.26H292.32V251.53H292.98V253.02H293.64V254.51H294.30V251.14H294.96V247.37H295.62V255.47H296.28V255.45H296.94V256.31H297.60V258.62H298.26V260.14H298.92V271.44H299.58V265.92H300.24V270.20H300.90V264.45H301.56V267.98H302.22V267.72H302.88V267.13H303.54V273.09H304.20V276.04H304.86V285.49H305.52V279.53H306.18V291.12H306.84V290.90H307.50V296.20H308.16V294.85H308.82V292.34H309.48V286.66H310.14V286.37H310.80V287.60H311.46V290.26H312.12V285.02H312.78V302.64H313.44V305.94H314.10V305.97H314.76V313.93H315.42V313.63H316.08V314.50H316.74V319.79H317.40V321.29H318.06V324.83H318.72V329.14H319.38V337.11H320.04V335.56H320.70V335.36H321.36V339.66H322.02V338.78H322.68V338.32H323.34V336.94H324.00V342.37H324.66V341.52H325.32V340.85H325.98V340.99H326.64V344.97H327.30V341.30H327.96V346.97H328.62V345.72H329.28V349.06H329.94V349.81H330.60V349.29H331.26V351.39H331.92V352.96H332.58V355.02H333.24V355.53H333.90V357.06H334.56V355.08H335.22V358.03H335.88V358.94H336.54V355.95H337.20V356.40H337.86V357.74H338.52V357.08H339.18V358.37H339.84V358.36H340.50V357.83H341.16V358.07H341.82V358.74H342.48V357.71H343.14V358.40H343.80V358.89H344.46V359.70H345.12V359.14H345.78V359.46H346.44V359.45H347.10V359.16H347.76V359.86H348.42V359.61H349.08V359.52H349.74V359.80H350.40V359.25H351.06V360.68H351.72V360.25H352.38V360.61H353.04V360.30H353.70V359.58H354.36V360.75H355.02V360.37H355.68V360.11H356.34V360.27H357.00V360.05H357.66V360.74H358.32V360.04H358.98V360.58H359.64V360.66H360.30V360.16H360.96V360.19H361.62V360.53H362.28V360.56H362.94V360.39H363.60V360.34H364.26V360.39H364.92V360.63H365.58V360.80H366.24V359.99H366.90V360.31H367.56V360.71H368.22V360.80H368.88V360.57H369.54V360.49H370.20V360.80H370.86V359.99H371.52V360.27H372.18V360.48H372.84V360.30H373.50V360.33H374.16V360.10H374.82V360.36H375.48V360.05H376.14V359.98H376.80V360.50H377.46V360.55H378.12V360.67H378.78V360.49H379.44V360.63H380.10V360.43H380.76V360.35H381.42V360.29H382.08V360.77H382.74V360.15H383.40V360.54H384.06V360.49H384.72V360.60H385.38V360.80H386.04V360.40H386.70V360.80H387.36V360.16H388.02V360.47H388.68V360.04H389.34V360.30H390.00V360.29H390.66V360.10H391.32V360.51H391.98V360.07H392.64V360.54H393.30V360.44H393.96V360.70H394.62V360.36H395.28V360.33H395.94V360.66H396.60V360.80H397.26V360.54H397.92V360.41H398.58V360.58H399.24V360.80H399.90V360.75H400.56V360.62H401.22V360.80H401.88V360.72H402.54V360.16H403.20V360.80H403.86V360.63H404.52V360.10H405.18V360.37H405.84V360.32H406.50V360.62H407.16V360.80H407.82V359.78H408.48V360.51H409.14V360.53H409.80V360.14H410.46V360.38H411.12V360.59H411.78V360.80H412.44V360.66H413.10V360.66H413.76V360.80H414.42V360.80H415.08V360.80H415.74V360.66H416.40V360.80H417.06V360.52H417.72V360.36H418.38V360.56H419.04V360.64H419.70V360.22H420.36V360.47H421.02V360.80H421.68V360.80H422.34V360.61H423.00V360.80H423.66V360.46H424.32V360.80H424.98V360.80H425.64V360.41H426.30V360.53H426.96V360.80H427.62V360.68H428.28V360.32H428.94V360.80H429.60V360.80H430.26V360.80H430.92V360.80H431.58V360.80H432.24V360.80H432.90V360.80H433.56V360.71H434.22V360.11H434.88V360.80H435.54V360.49H436.20V360.42H436.86V360.80H437.52V360.72H438.18V360.76H438.84V360.80H439.50V360.54H440.16V360.80H440.82V360.67H441.48V360.80H442.14V360.80H442.80V360.80H443.46V360.15H444.12V360.80H444.78V360.80H445.44V360.25H446.10V360.36H446.30" fill="none" stroke="#222" stroke-width="1.0" stroke-linejoin="miter" stroke-dasharray="1,1.6"/>
<path d="M277.80,346.17H278.46V347.31H279.12V341.04H279.78V348.35H280.44V350.95H281.10V349.26H281.76V347.46H282.42V345.82H283.08V345.18H283.74V348.66H284.40V348.33H285.06V348.63H285.72V348.90H286.38V345.53H287.04V342.29H287.70V343.53H288.36V337.91H289.02V337.07H289.68V332.74H290.34V335.54H291.00V332.02H291.66V327.93H292.32V325.47H292.98V328.49H293.64V320.06H294.30V325.60H294.96V319.55H295.62V323.27H296.28V322.95H296.94V325.07H297.60V321.33H298.26V313.31H298.92V322.17H299.58V314.76H300.24V313.70H300.90V317.50H301.56V310.98H302.22V308.38H302.88V313.93H303.54V316.70H304.20V313.46H304.86V317.96H305.52V314.67H306.18V318.36H306.84V320.66H307.50V315.21H308.16V318.25H308.82V311.20H309.48V310.66H310.14V313.70H310.80V314.23H311.46V306.81H312.12V309.84H312.78V302.86H313.44V309.32H314.10V308.16H314.76V310.73H315.42V314.02H316.08V302.99H316.74V307.49H317.40V313.58H318.06V307.11H318.72V314.51H319.38V302.16H320.04V301.01H320.70V304.39H321.36V302.67H322.02V298.65H322.68V293.37H323.34V294.87H324.00V303.08H324.66V307.25H325.32V309.47H325.98V306.59H326.64V310.33H327.30V308.47H327.96V310.75H328.62V301.89H329.28V305.14H329.94V308.80H330.60V311.13H331.26V315.80H331.92V323.65H332.58V318.91H333.24V312.48H333.90V310.97H334.56V306.92H335.22V313.27H335.88V315.34H336.54V312.73H337.20V307.87H337.86V314.36H338.52V319.99H339.18V315.21H339.84V318.80H340.50V319.83H341.16V316.10H341.82V322.46H342.48V322.30H343.14V320.91H343.80V312.80H344.46V316.28H345.12V318.84H345.78V319.39H346.44V315.45H347.10V313.13H347.76V318.78H348.42V314.93H349.08V307.44H349.74V312.39H350.40V313.46H351.06V309.19H351.72V307.95H352.38V303.94H353.04V305.66H353.70V313.74H354.36V317.63H355.02V319.04H355.68V325.03H356.34V325.42H357.00V330.69H357.66V326.92H358.32V326.46H358.98V333.22H359.64V329.08H360.30V331.23H360.96V332.13H361.62V333.97H362.28V333.65H362.94V332.84H363.60V339.17H364.26V334.62H364.92V338.29H365.58V340.86H366.24V339.16H366.90V338.99H367.56V341.89H368.22V342.44H368.88V345.03H369.54V346.30H370.20V342.70H370.86V345.82H371.52V341.33H372.18V341.99H372.84V342.60H373.50V341.84H374.16V341.48H374.82V341.93H375.48V342.94H376.14V344.11H376.80V348.52H377.46V349.26H378.12V344.31H378.78V345.84H379.44V345.40H380.10V344.30H380.76V347.14H381.42V343.97H382.08V348.42H382.74V350.38H383.40V353.30H384.06V351.00H384.72V351.69H385.38V351.14H386.04V352.39H386.70V354.98H387.36V355.93H388.02V353.26H388.68V355.14H389.34V353.81H390.00V353.23H390.66V351.69H391.32V351.12H391.98V354.25H392.64V354.65H393.30V356.83H393.96V355.21H394.62V356.64H395.28V358.22H395.94V355.69H396.60V356.77H397.26V357.83H397.92V357.36H398.58V357.61H399.24V357.08H399.90V357.08H400.56V357.86H401.22V357.08H401.88V359.75H402.54V357.92H403.20V357.18H403.86V357.03H404.52V357.26H405.18V358.81H405.84V359.38H406.50V358.40H407.16V356.49H407.82V358.09H408.48V358.90H409.14V359.64H409.80V358.40H410.46V358.88H411.12V358.28H411.78V358.55H412.44V360.32H413.10V358.88H413.76V358.34H414.42V359.30H415.08V359.73H415.74V359.75H416.40V359.90H417.06V357.83H417.72V358.37H418.38V359.61H419.04V358.54H419.70V359.97H420.36V359.71H421.02V359.83H421.68V359.54H422.34V359.09H423.00V358.36H423.66V359.08H424.32V359.55H424.98V359.42H425.64V359.64H426.30V359.33H426.96V360.00H427.62V359.42H428.28V359.33H428.94V359.09H429.60V360.02H430.26V359.39H430.92V359.48H431.58V360.04H432.24V360.64H432.90V359.94H433.56V359.24H434.22V359.83H434.88V358.59H435.54V359.44H436.20V360.08H436.86V359.79H437.52V359.54H438.18V359.54H438.84V359.89H439.50V359.58H440.16V358.44H440.82V359.40H441.48V359.76H442.14V360.06H442.80V360.66H443.46V359.80H444.12V360.07H444.78V359.92H445.44V360.15H446.10V359.59H446.30" fill="none" stroke="#22dd22" stroke-width="1.3" stroke-linejoin="miter" />
<path d="M277.80,336.26H278.46V343.00H279.12V340.03H279.78V340.60H280.44V341.27H281.10V339.99H281.76V339.24H282.42V337.59H283.08V335.49H283.74V333.01H284.40V333.88H285.06V330.74H285.72V332.64H286.38V335.17H287.04V337.58H287.70V340.87H288.36V343.73H289.02V340.73H289.68V340.59H290.34V339.24H291.00V338.89H291.66V341.99H292.32V341.25H292.98V342.52H293.64V338.59H294.30V341.30H294.96V341.26H295.62V343.73H296.28V344.86H296.94V343.53H297.60V342.59H298.26V341.50H298.92V345.36H299.58V341.76H300.24V344.08H300.90V343.42H301.56V343.41H302.22V344.02H302.88V342.77H303.54V342.43H304.20V343.87H304.86V345.91H305.52V344.61H306.18V344.33H306.84V342.76H307.50V343.19H308.16V346.13H308.82V343.83H309.48V341.58H310.14V337.22H310.80V337.88H311.46V333.93H312.12V333.71H312.78V336.25H313.44V336.91H314.10V339.47H314.76V343.43H315.42V347.75H316.08V343.66H316.74V344.91H317.40V347.19H318.06V343.64H318.72V346.55H319.38V345.60H320.04V340.90H320.70V339.47H321.36V342.53H322.02V344.12H322.68V341.95H323.34V344.45H324.00V350.27H324.66V355.63H325.32V351.33H325.98V354.79H326.64V354.98H327.30V351.04H327.96V349.14H328.62V350.18H329.28V346.84H329.94V348.32H330.60V347.52H331.26V346.81H331.92V348.63H332.58V347.45H333.24V344.13H333.90V349.60H334.56V347.97H335.22V347.75H335.88V349.79H336.54V349.37H337.20V352.26H337.86V350.38H338.52V348.82H339.18V346.25H339.84V345.65H340.50V347.43H341.16V347.96H341.82V343.72H342.48V346.22H343.14V351.60H343.80V349.91H344.46V350.78H345.12V349.04H345.78V349.67H346.44V346.15H347.10V345.03H347.76V343.20H348.42V340.32H349.08V343.50H349.74V347.66H350.40V349.98H351.06V348.15H351.72V344.95H352.38V344.94H353.04V347.26H353.70V343.83H354.36V344.30H355.02V345.24H355.68V342.28H356.34V342.27H357.00V343.40H357.66V341.04H358.32V338.80H358.98V337.99H359.64V347.57H360.30V350.38H360.96V346.39H361.62V342.21H362.28V343.00H362.94V338.22H363.60V338.50H364.26V338.26H364.92V340.88H365.58V339.22H366.24V341.43H366.90V339.83H367.56V341.82H368.22V340.00H368.88V340.46H369.54V341.16H370.20V338.22H370.86V338.20H371.52V336.62H372.18V333.28H372.84V334.02H373.50V329.64H374.16V332.21H374.82V333.10H375.48V333.09H376.14V336.32H376.80V332.96H377.46V336.84H378.12V335.19H378.78V335.17H379.44V335.21H380.10V332.64H380.76V336.03H381.42V327.42H382.08V333.62H382.74V329.35H383.40V334.59H384.06V327.35H384.72V332.01H385.38V328.68H386.04V330.56H386.70V329.85H387.36V331.77H388.02V333.68H388.68V334.52H389.34V328.76H390.00V333.92H390.66V332.08H391.32V332.65H391.98V330.80H392.64V333.25H393.30V331.55H393.96V328.89H394.62V332.08H395.28V331.45H395.94V335.94H396.60V333.30H397.26V338.79H397.92V332.16H398.58V330.19H399.24V329.23H399.90V327.77H400.56V328.59H401.22V329.08H401.88V330.81H402.54V330.23H403.20V331.00H403.86V320.74H404.52V319.31H405.18V320.04H405.84V319.81H406.50V327.52H407.16V322.86H407.82V318.85H408.48V322.85H409.14V324.25H409.80V318.40H410.46V321.18H411.12V319.35H411.78V319.46H412.44V327.93H413.10V323.43H413.76V329.20H414.42V326.96H415.08V322.69H415.74V327.10H416.40V325.15H417.06V323.78H417.72V320.93H418.38V321.47H419.04V322.81H419.70V327.01H420.36V329.23H421.02V327.72H421.68V332.59H422.34V333.42H423.00V330.56H423.66V335.11H424.32V336.24H424.98V332.32H425.64V335.94H426.30V341.38H426.96V338.42H427.62V332.76H428.28V331.27H428.94V338.67H429.60V336.92H430.26V337.27H430.92V338.61H431.58V343.57H432.24V338.02H432.90V339.96H433.56V341.63H434.22V345.28H434.88V344.18H435.54V344.06H436.20V345.21H436.86V345.23H437.52V346.90H438.18V344.71H438.84V345.61H439.50V348.92H440.16V348.20H440.82V346.70H441.48V348.55H442.14V345.50H442.80V348.92H443.46V347.83H444.12V347.45H444.78V350.47H445.44V346.74H446.10V349.16H446.30" fill="none" stroke="#f0069a" stroke-width="1.8" stroke-linejoin="miter" />
<line x1="277.70" y1="224.00" x2="277.70" y2="360.80" stroke="#d0108a" stroke-width="2.0" />
<line x1="277.70" y1="284.70" x2="277.70" y2="360.80" stroke="#ee069a" stroke-width="2.3" />
<line x1="445.6" y1="272" x2="445.6" y2="352" stroke="#f0069a" stroke-width="1.8"/>
<line x1="276.60" y1="223.00" x2="276.60" y2="361.30" stroke="#333" stroke-width="1" />
<line x1="272.60" y1="360.80" x2="446.80" y2="360.80" stroke="#444" stroke-width="1.1" />
<line x1="272.40" y1="360.80" x2="276.60" y2="360.80" stroke="#333" stroke-width="1" />
<text x="269.00" y="366.20" font-size="11" text-anchor="end" font-weight="normal" fill="#111" >0</text>
<line x1="274.30" y1="357.37" x2="276.60" y2="357.37" stroke="#333" stroke-width="1" />
<line x1="274.30" y1="353.94" x2="276.60" y2="353.94" stroke="#333" stroke-width="1" />
<line x1="274.30" y1="350.50" x2="276.60" y2="350.50" stroke="#333" stroke-width="1" />
<line x1="274.30" y1="347.07" x2="276.60" y2="347.07" stroke="#333" stroke-width="1" />
<line x1="272.40" y1="343.64" x2="276.60" y2="343.64" stroke="#333" stroke-width="1" />
<text x="269.00" y="349.04" font-size="11" text-anchor="end" font-weight="normal" fill="#111" >10</text>
<line x1="274.30" y1="340.21" x2="276.60" y2="340.21" stroke="#333" stroke-width="1" />
<line x1="274.30" y1="336.77" x2="276.60" y2="336.77" stroke="#333" stroke-width="1" />
<line x1="274.30" y1="333.34" x2="276.60" y2="333.34" stroke="#333" stroke-width="1" />
<line x1="274.30" y1="329.91" x2="276.60" y2="329.91" stroke="#333" stroke-width="1" />
<line x1="272.40" y1="326.48" x2="276.60" y2="326.48" stroke="#333" stroke-width="1" />
<text x="269.00" y="331.88" font-size="11" text-anchor="end" font-weight="normal" fill="#111" >20</text>
<line x1="274.30" y1="323.04" x2="276.60" y2="323.04" stroke="#333" stroke-width="1" />
<line x1="274.30" y1="319.61" x2="276.60" y2="319.61" stroke="#333" stroke-width="1" />
<line x1="274.30" y1="316.18" x2="276.60" y2="316.18" stroke="#333" stroke-width="1" />
<line x1="274.30" y1="312.75" x2="276.60" y2="312.75" stroke="#333" stroke-width="1" />
<line x1="272.40" y1="309.31" x2="276.60" y2="309.31" stroke="#333" stroke-width="1" />
<text x="269.00" y="314.71" font-size="11" text-anchor="end" font-weight="normal" fill="#111" >30</text>
<line x1="274.30" y1="305.88" x2="276.60" y2="305.88" stroke="#333" stroke-width="1" />
<line x1="274.30" y1="302.45" x2="276.60" y2="302.45" stroke="#333" stroke-width="1" />
<line x1="274.30" y1="299.01" x2="276.60" y2="299.01" stroke="#333" stroke-width="1" />
<line x1="274.30" y1="295.58" x2="276.60" y2="295.58" stroke="#333" stroke-width="1" />
<line x1="272.40" y1="292.15" x2="276.60" y2="292.15" stroke="#333" stroke-width="1" />
<text x="269.00" y="297.55" font-size="11" text-anchor="end" font-weight="normal" fill="#111" >40</text>
<line x1="274.30" y1="288.72" x2="276.60" y2="288.72" stroke="#333" stroke-width="1" />
<line x1="274.30" y1="285.29" x2="276.60" y2="285.29" stroke="#333" stroke-width="1" />
<line x1="274.30" y1="281.85" x2="276.60" y2="281.85" stroke="#333" stroke-width="1" />
<line x1="274.30" y1="278.42" x2="276.60" y2="278.42" stroke="#333" stroke-width="1" />
<line x1="272.40" y1="274.99" x2="276.60" y2="274.99" stroke="#333" stroke-width="1" />
<text x="269.00" y="280.39" font-size="11" text-anchor="end" font-weight="normal" fill="#111" >50</text>
<line x1="274.30" y1="271.56" x2="276.60" y2="271.56" stroke="#333" stroke-width="1" />
<line x1="274.30" y1="268.12" x2="276.60" y2="268.12" stroke="#333" stroke-width="1" />
<line x1="274.30" y1="264.69" x2="276.60" y2="264.69" stroke="#333" stroke-width="1" />
<line x1="274.30" y1="261.26" x2="276.60" y2="261.26" stroke="#333" stroke-width="1" />
<line x1="272.40" y1="257.82" x2="276.60" y2="257.82" stroke="#333" stroke-width="1" />
<text x="269.00" y="263.22" font-size="11" text-anchor="end" font-weight="normal" fill="#111" >60</text>
<line x1="274.30" y1="254.39" x2="276.60" y2="254.39" stroke="#333" stroke-width="1" />
<line x1="274.30" y1="250.96" x2="276.60" y2="250.96" stroke="#333" stroke-width="1" />
<line x1="274.30" y1="247.53" x2="276.60" y2="247.53" stroke="#333" stroke-width="1" />
<line x1="274.30" y1="244.10" x2="276.60" y2="244.10" stroke="#333" stroke-width="1" />
<line x1="272.40" y1="240.66" x2="276.60" y2="240.66" stroke="#333" stroke-width="1" />
<text x="269.00" y="246.06" font-size="11" text-anchor="end" font-weight="normal" fill="#111" >70</text>
<line x1="274.30" y1="237.23" x2="276.60" y2="237.23" stroke="#333" stroke-width="1" />
<line x1="274.30" y1="233.80" x2="276.60" y2="233.80" stroke="#333" stroke-width="1" />
<line x1="274.30" y1="230.37" x2="276.60" y2="230.37" stroke="#333" stroke-width="1" />
<line x1="274.30" y1="226.93" x2="276.60" y2="226.93" stroke="#333" stroke-width="1" />
<line x1="272.40" y1="223.50" x2="276.60" y2="223.50" stroke="#333" stroke-width="1" />
<text x="269.00" y="228.90" font-size="11" text-anchor="end" font-weight="normal" fill="#111" >80</text>
<line x1="276.60" y1="360.80" x2="276.60" y2="364.60" stroke="#333" stroke-width="1" />
<line x1="289.37" y1="360.80" x2="289.37" y2="363.20" stroke="#333" stroke-width="1" />
<line x1="296.84" y1="360.80" x2="296.84" y2="363.20" stroke="#333" stroke-width="1" />
<line x1="302.14" y1="360.80" x2="302.14" y2="363.20" stroke="#333" stroke-width="1" />
<line x1="306.25" y1="360.80" x2="306.25" y2="363.20" stroke="#333" stroke-width="1" />
<line x1="309.61" y1="360.80" x2="309.61" y2="363.20" stroke="#333" stroke-width="1" />
<line x1="312.45" y1="360.80" x2="312.45" y2="363.20" stroke="#333" stroke-width="1" />
<line x1="314.91" y1="360.80" x2="314.91" y2="363.20" stroke="#333" stroke-width="1" />
<line x1="317.08" y1="360.80" x2="317.08" y2="363.20" stroke="#333" stroke-width="1" />
<line x1="319.03" y1="360.80" x2="319.03" y2="364.60" stroke="#333" stroke-width="1" />
<line x1="331.80" y1="360.80" x2="331.80" y2="363.20" stroke="#333" stroke-width="1" />
<line x1="339.27" y1="360.80" x2="339.27" y2="363.20" stroke="#333" stroke-width="1" />
<line x1="344.57" y1="360.80" x2="344.57" y2="363.20" stroke="#333" stroke-width="1" />
<line x1="348.68" y1="360.80" x2="348.68" y2="363.20" stroke="#333" stroke-width="1" />
<line x1="352.04" y1="360.80" x2="352.04" y2="363.20" stroke="#333" stroke-width="1" />
<line x1="354.88" y1="360.80" x2="354.88" y2="363.20" stroke="#333" stroke-width="1" />
<line x1="357.34" y1="360.80" x2="357.34" y2="363.20" stroke="#333" stroke-width="1" />
<line x1="359.51" y1="360.80" x2="359.51" y2="363.20" stroke="#333" stroke-width="1" />
<line x1="361.45" y1="360.80" x2="361.45" y2="364.60" stroke="#333" stroke-width="1" />
<line x1="374.22" y1="360.80" x2="374.22" y2="363.20" stroke="#333" stroke-width="1" />
<line x1="381.69" y1="360.80" x2="381.69" y2="363.20" stroke="#333" stroke-width="1" />
<line x1="386.99" y1="360.80" x2="386.99" y2="363.20" stroke="#333" stroke-width="1" />
<line x1="391.10" y1="360.80" x2="391.10" y2="363.20" stroke="#333" stroke-width="1" />
<line x1="394.46" y1="360.80" x2="394.46" y2="363.20" stroke="#333" stroke-width="1" />
<line x1="397.30" y1="360.80" x2="397.30" y2="363.20" stroke="#333" stroke-width="1" />
<line x1="399.76" y1="360.80" x2="399.76" y2="363.20" stroke="#333" stroke-width="1" />
<line x1="401.93" y1="360.80" x2="401.93" y2="363.20" stroke="#333" stroke-width="1" />
<line x1="403.88" y1="360.80" x2="403.88" y2="364.60" stroke="#333" stroke-width="1" />
<line x1="416.65" y1="360.80" x2="416.65" y2="363.20" stroke="#333" stroke-width="1" />
<line x1="424.12" y1="360.80" x2="424.12" y2="363.20" stroke="#333" stroke-width="1" />
<line x1="429.42" y1="360.80" x2="429.42" y2="363.20" stroke="#333" stroke-width="1" />
<line x1="433.53" y1="360.80" x2="433.53" y2="363.20" stroke="#333" stroke-width="1" />
<line x1="436.89" y1="360.80" x2="436.89" y2="363.20" stroke="#333" stroke-width="1" />
<line x1="439.73" y1="360.80" x2="439.73" y2="363.20" stroke="#333" stroke-width="1" />
<line x1="442.19" y1="360.80" x2="442.19" y2="363.20" stroke="#333" stroke-width="1" />
<line x1="444.36" y1="360.80" x2="444.36" y2="363.20" stroke="#333" stroke-width="1" />
<line x1="446.30" y1="360.80" x2="446.30" y2="364.60" stroke="#333" stroke-width="1" />
<text x="269.70" y="379.0" font-size="11.6" fill="#111">10<tspan font-size="8.8" dy="-4.5" dx="0.3">0</tspan></text>
<text x="312.13" y="379.0" font-size="11.6" fill="#111">10<tspan font-size="8.8" dy="-4.5" dx="0.3">1</tspan></text>
<text x="354.55" y="379.0" font-size="11.6" fill="#111">10<tspan font-size="8.8" dy="-4.5" dx="0.3">2</tspan></text>
<text x="396.98" y="379.0" font-size="11.6" fill="#111">10<tspan font-size="8.8" dy="-4.5" dx="0.3">3</tspan></text>
<text x="439.40" y="379.0" font-size="11.6" fill="#111">10<tspan font-size="8.8" dy="-4.5" dx="0.3">4</tspan></text>
<text x="345.60" y="395.60" font-size="11" text-anchor="start" font-weight="normal" fill="#111" textLength="32.5" lengthAdjust="spacingAndGlyphs" >FL1-H</text>
<text transform="translate(247.50,295.2) rotate(-90)" font-size="12" text-anchor="middle" fill="#111" textLength="39.3" lengthAdjust="spacingAndGlyphs">Counts</text>
<rect x="336.05" y="233.75" width="1.50" height="1.50" fill="#111" />
<rect x="339.22" y="233.75" width="1.50" height="1.50" fill="#111" />
<rect x="342.39" y="233.75" width="1.50" height="1.50" fill="#111" />
<rect x="345.56" y="233.75" width="1.50" height="1.50" fill="#111" />
<rect x="348.73" y="233.75" width="1.50" height="1.50" fill="#111" />
<rect x="351.90" y="233.75" width="1.50" height="1.50" fill="#111" />
<rect x="355.07" y="233.75" width="1.50" height="1.50" fill="#111" />
<line x1="334.90" y1="251.10" x2="357.40" y2="251.10" stroke="#b5f08a" stroke-width="2.0" />
<line x1="335.30" y1="266.95" x2="356.40" y2="266.95" stroke="#ec12a8" stroke-width="3.2" />
<text x="368.80" y="237.90" font-size="9.6" text-anchor="start" font-weight="normal" fill="#111" >Control</text>
<text x="361.00" y="254.00" font-size="9.4" text-anchor="start" font-weight="normal" fill="#111" textLength="79.5" lengthAdjust="spacingAndGlyphs" >&#8211; Benzyl-&#945;-GalNAc</text>
<text x="361.00" y="270.00" font-size="9.4" text-anchor="start" font-weight="normal" fill="#111" textLength="79.5" lengthAdjust="spacingAndGlyphs" >+ Benzyl-&#945;-GalNAc</text>
<text x="234.30" y="231.60" font-size="16" text-anchor="start" font-weight="bold" fill="#000" >D</text>
<line x1="504.60" y1="223.50" x2="674.50" y2="223.50" stroke="#555" stroke-width="1" />
<line x1="674.50" y1="223.50" x2="674.50" y2="361.10" stroke="#444" stroke-width="1" />
<path d="M505.80,342.84H506.46V343.82H507.12V346.23H507.78V341.09H508.44V342.05H509.10V341.47H509.76V341.44H510.42V337.56H511.08V338.69H511.74V337.32H512.40V340.44H513.06V340.20H513.72V341.02H514.38V338.29H515.04V344.27H515.70V330.15H516.36V332.34H517.02V330.44H517.68V325.91H518.34V326.57H519.00V319.90H519.66V312.72H520.32V311.21H520.98V285.68H521.64V295.39H522.30V298.32H522.96V305.48H523.62V303.67H524.28V293.63H524.94V300.80H525.60V297.66H526.26V295.12H526.92V295.95H527.58V315.44H528.24V297.75H528.90V301.58H529.56V297.56H530.22V304.53H530.88V297.26H531.54V290.01H532.20V296.41H532.86V297.57H533.52V295.43H534.18V293.63H534.84V284.70H535.50V285.39H536.16V287.37H536.82V279.68H537.48V288.30H538.14V289.32H538.80V268.34H539.46V282.07H540.12V268.56H540.78V276.68H541.44V278.24H542.10V275.28H542.76V283.21H543.42V284.40H544.08V282.91H544.74V285.51H545.40V281.80H546.06V278.11H546.72V295.26H547.38V295.94H548.04V289.86H548.70V291.67H549.36V289.56H550.02V300.04H550.68V298.77H551.34V306.25H552.00V317.19H552.66V313.66H553.32V325.68H553.98V322.77H554.64V330.59H555.30V334.13H555.96V330.13H556.62V334.69H557.28V340.29H557.94V343.04H558.60V347.15H559.26V344.14H559.92V346.89H560.58V351.15H561.24V353.85H561.90V351.96H562.56V353.03H563.22V352.19H563.88V355.81H564.54V356.31H565.20V355.34H565.86V356.56H566.52V356.11H567.18V356.31H567.84V358.75H568.50V360.45H569.16V358.46H569.82V359.47H570.48V359.00H571.14V361.10H571.80V359.81H572.46V359.75H573.12V360.22H573.78V359.63H574.44V359.95H575.10V359.94H575.76V359.43H576.42V359.53H577.08V359.67H577.74V360.16H578.40V360.35H579.06V360.23H579.72V360.42H580.38V360.87H581.04V360.42H581.70V360.21H582.36V360.75H583.02V361.03H583.68V360.36H584.34V360.90H585.00V361.10H585.66V360.71H586.32V361.10H586.98V360.48H587.64V360.82H588.30V360.59H588.96V360.16H589.62V360.18H590.28V360.67H590.94V361.10H591.60V360.83H592.26V361.10H592.92V360.28H593.58V360.02H594.24V360.37H594.90V360.40H595.56V360.44H596.22V360.39H596.88V360.82H597.54V360.31H598.20V360.80H598.86V361.10H599.52V360.66H600.18V360.04H600.84V360.76H601.50V361.10H602.16V360.20H602.82V360.60H603.48V360.48H604.14V360.89H604.80V360.52H605.46V360.06H606.12V360.98H606.78V360.44H607.44V360.58H608.10V361.08H608.76V360.66H609.42V360.50H610.08V361.08H610.74V360.27H611.40V361.10H612.06V360.28H612.72V360.50H613.38V360.65H614.04V361.08H614.70V361.08H615.36V361.10H616.02V360.78H616.68V360.83H617.34V360.55H618.00V360.37H618.66V360.71H619.32V360.92H619.98V360.40H620.64V360.80H621.30V360.81H621.96V361.10H622.62V360.38H623.28V361.08H623.94V360.03H624.60V361.10H625.26V361.02H625.92V360.79H626.58V361.10H627.24V361.10H627.90V361.10H628.56V361.10H629.22V360.94H629.88V360.45H630.54V360.58H631.20V360.73H631.86V360.53H632.52V361.10H633.18V361.10H633.84V361.09H634.50V361.10H635.16V360.68H635.82V361.10H636.48V361.10H637.14V360.53H637.80V361.10H638.46V360.99H639.12V361.10H639.78V360.54H640.44V360.89H641.10V360.33H641.76V360.03H642.42V360.65H643.08V361.06H643.74V361.10H644.40V360.27H645.06V361.01H645.72V360.68H646.38V360.84H647.04V361.10H647.70V360.89H648.36V360.88H649.02V360.87H649.68V361.01H650.34V360.86H651.00V361.10H651.66V360.72H652.32V361.10H652.98V360.91H653.64V360.32H654.30V360.89H654.96V361.10H655.62V360.84H656.28V361.10H656.94V360.93H657.60V360.44H658.26V361.10H658.92V361.07H659.58V361.10H660.24V360.94H660.90V360.89H661.56V360.95H662.22V361.10H662.88V361.10H663.54V361.10H664.20V361.10H664.86V360.71H665.52V361.10H666.18V360.61H666.84V361.10H667.50V361.10H668.16V360.48H668.82V360.92H669.48V361.10H670.14V360.96H670.80V360.83H671.46V361.10H672.12V360.57H672.78V361.10H673.44V360.76H674.10V361.10H674.50" fill="none" stroke="#444" stroke-width="0.8" stroke-linejoin="miter" />
<path d="M505.80,346.30H506.46V346.79H507.12V348.58H507.78V344.21H508.44V350.53H509.10V348.05H509.76V346.78H510.42V345.57H511.08V343.87H511.74V345.38H512.40V337.81H513.06V341.42H513.72V337.81H514.38V335.50H515.04V333.34H515.70V331.47H516.36V319.97H517.02V318.50H517.68V310.72H518.34V316.83H519.00V307.26H519.66V307.80H520.32V304.36H520.98V303.74H521.64V302.50H522.30V304.40H522.96V304.50H523.62V306.52H524.28V308.44H524.94V311.27H525.60V311.54H526.26V306.50H526.92V308.69H527.58V296.57H528.24V300.18H528.90V297.13H529.56V302.41H530.22V306.02H530.88V306.09H531.54V302.49H532.20V300.91H532.86V299.06H533.52V298.02H534.18V293.49H534.84V304.16H535.50V288.06H536.16V295.12H536.82V292.47H537.48V298.40H538.14V288.78H538.80V293.92H539.46V284.45H540.12V283.63H540.78V282.30H541.44V282.02H542.10V280.69H542.76V279.14H543.42V272.09H544.08V273.86H544.74V269.61H545.40V249.30H546.06V259.35H546.72V267.30H547.38V274.20H548.04V269.56H548.70V251.50H549.36V241.81H550.02V253.22H550.68V257.62H551.34V256.74H552.00V258.99H552.66V259.16H553.32V272.05H553.98V282.58H554.64V284.06H555.30V296.73H555.96V304.14H556.62V306.89H557.28V308.18H557.94V312.59H558.60V315.80H559.26V320.34H559.92V318.21H560.58V327.13H561.24V337.06H561.90V337.85H562.56V336.21H563.22V340.63H563.88V336.40H564.54V343.79H565.20V345.08H565.86V345.58H566.52V347.66H567.18V347.79H567.84V350.55H568.50V350.64H569.16V352.89H569.82V356.49H570.48V353.31H571.14V352.80H571.80V356.53H572.46V356.49H573.12V355.50H573.78V357.26H574.44V357.08H575.10V357.82H575.76V357.55H576.42V358.58H577.08V357.46H577.74V358.94H578.40V359.25H579.06V360.11H579.72V359.21H580.38V359.96H581.04V359.09H581.70V359.24H582.36V358.19H583.02V360.20H583.68V359.80H584.34V359.45H585.00V361.03H585.66V359.76H586.32V359.20H586.98V360.05H587.64V360.09H588.30V359.50H588.96V359.95H589.62V359.95H590.28V359.68H590.94V360.46H591.60V359.19H592.26V360.26H592.92V360.10H593.58V360.28H594.24V361.10H594.90V360.87H595.56V360.28H596.22V360.11H596.88V359.57H597.54V358.88H598.20V359.78H598.86V360.17H599.52V360.42H600.18V359.47H600.84V360.42H601.50V360.15H602.16V359.51H602.82V360.20H603.48V360.20H604.14V360.07H604.80V360.89H605.46V360.20H606.12V360.07H606.78V359.98H607.44V360.32H608.10V361.10H608.76V360.52H609.42V359.81H610.08V360.52H610.74V360.57H611.40V359.92H612.06V359.92H612.72V360.10H613.38V359.90H614.04V359.81H614.70V359.95H615.36V360.02H616.02V359.35H616.68V360.68H617.34V359.18H618.00V360.07H618.66V360.52H619.32V359.88H619.98V359.74H620.64V360.74H621.30V360.12H621.96V359.83H622.62V359.84H623.28V360.19H623.94V360.69H624.60V360.25H625.26V359.25H625.92V360.63H626.58V358.88H627.24V360.24H627.90V360.26H628.56V360.47H629.22V360.16H629.88V360.14H630.54V360.68H631.20V359.35H631.86V359.71H632.52V360.08H633.18V360.80H633.84V360.41H634.50V360.33H635.16V359.91H635.82V360.30H636.48V360.75H637.14V360.34H637.80V360.35H638.46V360.26H639.12V359.90H639.78V360.58H640.44V360.93H641.10V359.77H641.76V359.87H642.42V360.80H643.08V359.97H643.74V360.50H644.40V360.00H645.06V360.07H645.72V360.88H646.38V360.73H647.04V360.36H647.70V360.88H648.36V360.80H649.02V360.67H649.68V360.38H650.34V360.35H651.00V360.63H651.66V360.42H652.32V359.83H652.98V360.09H653.64V360.16H654.30V360.61H654.96V360.61H655.62V360.83H656.28V360.68H656.94V361.08H657.60V360.40H658.26V360.50H658.92V360.63H659.58V360.60H660.24V360.87H660.90V360.07H661.56V360.11H662.22V359.88H662.88V360.22H663.54V360.43H664.20V360.01H664.86V360.87H665.52V360.93H666.18V360.01H666.84V360.18H667.50V360.28H668.16V359.85H668.82V360.40H669.48V360.29H670.14V360.22H670.80V360.86H671.46V360.24H672.12V360.16H672.78V360.42H673.44V360.68H674.10V360.72H674.50" fill="none" stroke="#22dd22" stroke-width="1.3" stroke-linejoin="miter" />
<path d="M505.80,344.73H506.46V343.39H507.12V341.74H507.78V344.17H508.44V345.42H509.10V346.70H509.76V342.67H510.42V344.79H511.08V346.05H511.74V347.06H512.40V349.68H513.06V343.65H513.72V344.34H514.38V341.27H515.04V336.76H515.70V339.41H516.36V335.99H517.02V324.90H517.68V320.70H518.34V318.95H519.00V322.04H519.66V320.55H520.32V322.54H520.98V315.11H521.64V314.73H522.30V320.28H522.96V318.06H523.62V317.63H524.28V306.86H524.94V313.36H525.60V318.12H526.26V317.01H526.92V316.50H527.58V323.94H528.24V317.88H528.90V316.62H529.56V317.08H530.22V315.16H530.88V315.27H531.54V320.09H532.20V321.96H532.86V315.60H533.52V315.28H534.18V311.91H534.84V304.94H535.50V308.62H536.16V308.67H536.82V311.55H537.48V305.01H538.14V304.17H538.80V302.49H539.46V301.75H540.12V300.30H540.78V301.04H541.44V300.47H542.10V295.51H542.76V296.56H543.42V294.10H544.08V291.60H544.74V286.01H545.40V292.10H546.06V285.70H546.72V283.20H547.38V279.86H548.04V283.99H548.70V277.09H549.36V272.30H550.02V278.70H550.68V277.67H551.34V276.57H552.00V278.40H552.66V273.02H553.32V277.17H553.98V267.47H554.64V279.64H555.30V285.12H555.96V291.88H556.62V288.97H557.28V290.25H557.94V294.23H558.60V305.54H559.26V308.37H559.92V309.81H560.58V306.84H561.24V311.53H561.90V311.20H562.56V308.47H563.22V322.74H563.88V321.01H564.54V323.07H565.20V329.11H565.86V324.27H566.52V329.58H567.18V329.73H567.84V331.03H568.50V330.89H569.16V337.23H569.82V338.49H570.48V341.18H571.14V342.40H571.80V337.67H572.46V343.94H573.12V347.99H573.78V345.37H574.44V345.21H575.10V350.33H575.76V349.56H576.42V352.27H577.08V353.79H577.74V351.84H578.40V353.94H579.06V354.66H579.72V353.91H580.38V354.27H581.04V355.74H581.70V354.85H582.36V357.03H583.02V356.98H583.68V356.08H584.34V355.14H585.00V355.65H585.66V356.86H586.32V357.80H586.98V359.19H587.64V357.26H588.30V358.65H588.96V357.22H589.62V359.01H590.28V360.48H590.94V358.87H591.60V359.61H592.26V359.98H592.92V359.58H593.58V359.65H594.24V359.47H594.90V360.61H595.56V359.59H596.22V359.34H596.88V360.27H597.54V358.82H598.20V359.63H598.86V360.69H599.52V358.59H600.18V359.71H600.84V359.44H601.50V359.57H602.16V358.30H602.82V359.40H603.48V359.82H604.14V359.78H604.80V359.03H605.46V359.00H606.12V359.75H606.78V358.75H607.44V359.73H608.10V359.20H608.76V358.95H609.42V359.09H610.08V359.08H610.74V359.05H611.40V359.53H612.06V359.06H612.72V358.97H613.38V359.95H614.04V360.06H614.70V358.94H615.36V359.13H616.02V358.99H616.68V358.60H617.34V358.82H618.00V359.40H618.66V358.69H619.32V359.48H619.98V357.87H620.64V358.33H621.30V359.02H621.96V359.46H622.62V358.72H623.28V359.17H623.94V359.56H624.60V358.75H625.26V359.03H625.92V358.55H626.58V359.23H627.24V357.90H627.90V358.03H628.56V360.16H629.22V360.45H629.88V359.77H630.54V358.22H631.20V358.78H631.86V359.12H632.52V359.04H633.18V359.98H633.84V359.12H634.50V359.88H635.16V359.12H635.82V359.48H636.48V359.60H637.14V359.61H637.80V358.95H638.46V358.16H639.12V360.37H639.78V358.91H640.44V359.59H641.10V358.46H641.76V358.72H642.42V359.89H643.08V359.36H643.74V358.59H644.40V358.47H645.06V359.80H645.72V360.05H646.38V359.31H647.04V358.72H647.70V358.97H648.36V359.33H649.02V359.23H649.68V359.24H650.34V359.52H651.00V360.08H651.66V359.19H652.32V359.36H652.98V359.12H653.64V359.64H654.30V359.92H654.96V359.24H655.62V359.20H656.28V358.71H656.94V360.41H657.60V359.95H658.26V359.85H658.92V358.59H659.58V360.96H660.24V359.27H660.90V360.18H661.56V360.33H662.22V359.37H662.88V359.43H663.54V361.10H664.20V360.47H664.86V359.86H665.52V360.13H666.18V359.33H666.84V360.31H667.50V360.05H668.16V361.01H668.82V359.68H669.48V359.94H670.14V359.62H670.80V360.32H671.46V359.13H672.12V360.32H672.78V359.21H673.44V359.19H674.10V360.48H674.50" fill="none" stroke="#f0069a" stroke-width="1.8" stroke-linejoin="miter" />
<line x1="505.70" y1="224.00" x2="505.70" y2="361.10" stroke="#d0108a" stroke-width="2.0" />
<line x1="505.70" y1="284.70" x2="505.70" y2="361.10" stroke="#ee069a" stroke-width="2.3" />
<line x1="504.60" y1="223.00" x2="504.60" y2="361.60" stroke="#333" stroke-width="1" />
<line x1="500.60" y1="361.10" x2="675.00" y2="361.10" stroke="#444" stroke-width="1.1" />
<line x1="500.40" y1="361.10" x2="504.60" y2="361.10" stroke="#333" stroke-width="1" />
<text x="497.00" y="366.50" font-size="11" text-anchor="end" font-weight="normal" fill="#111" >0</text>
<line x1="502.30" y1="357.66" x2="504.60" y2="357.66" stroke="#333" stroke-width="1" />
<line x1="502.30" y1="354.22" x2="504.60" y2="354.22" stroke="#333" stroke-width="1" />
<line x1="502.30" y1="350.78" x2="504.60" y2="350.78" stroke="#333" stroke-width="1" />
<line x1="502.30" y1="347.34" x2="504.60" y2="347.34" stroke="#333" stroke-width="1" />
<line x1="500.40" y1="343.90" x2="504.60" y2="343.90" stroke="#333" stroke-width="1" />
<text x="497.00" y="349.30" font-size="11" text-anchor="end" font-weight="normal" fill="#111" >10</text>
<line x1="502.30" y1="340.46" x2="504.60" y2="340.46" stroke="#333" stroke-width="1" />
<line x1="502.30" y1="337.02" x2="504.60" y2="337.02" stroke="#333" stroke-width="1" />
<line x1="502.30" y1="333.58" x2="504.60" y2="333.58" stroke="#333" stroke-width="1" />
<line x1="502.30" y1="330.14" x2="504.60" y2="330.14" stroke="#333" stroke-width="1" />
<line x1="500.40" y1="326.70" x2="504.60" y2="326.70" stroke="#333" stroke-width="1" />
<text x="497.00" y="332.10" font-size="11" text-anchor="end" font-weight="normal" fill="#111" >20</text>
<line x1="502.30" y1="323.26" x2="504.60" y2="323.26" stroke="#333" stroke-width="1" />
<line x1="502.30" y1="319.82" x2="504.60" y2="319.82" stroke="#333" stroke-width="1" />
<line x1="502.30" y1="316.38" x2="504.60" y2="316.38" stroke="#333" stroke-width="1" />
<line x1="502.30" y1="312.94" x2="504.60" y2="312.94" stroke="#333" stroke-width="1" />
<line x1="500.40" y1="309.50" x2="504.60" y2="309.50" stroke="#333" stroke-width="1" />
<text x="497.00" y="314.90" font-size="11" text-anchor="end" font-weight="normal" fill="#111" >30</text>
<line x1="502.30" y1="306.06" x2="504.60" y2="306.06" stroke="#333" stroke-width="1" />
<line x1="502.30" y1="302.62" x2="504.60" y2="302.62" stroke="#333" stroke-width="1" />
<line x1="502.30" y1="299.18" x2="504.60" y2="299.18" stroke="#333" stroke-width="1" />
<line x1="502.30" y1="295.74" x2="504.60" y2="295.74" stroke="#333" stroke-width="1" />
<line x1="500.40" y1="292.30" x2="504.60" y2="292.30" stroke="#333" stroke-width="1" />
<text x="497.00" y="297.70" font-size="11" text-anchor="end" font-weight="normal" fill="#111" >40</text>
<line x1="502.30" y1="288.86" x2="504.60" y2="288.86" stroke="#333" stroke-width="1" />
<line x1="502.30" y1="285.42" x2="504.60" y2="285.42" stroke="#333" stroke-width="1" />
<line x1="502.30" y1="281.98" x2="504.60" y2="281.98" stroke="#333" stroke-width="1" />
<line x1="502.30" y1="278.54" x2="504.60" y2="278.54" stroke="#333" stroke-width="1" />
<line x1="500.40" y1="275.10" x2="504.60" y2="275.10" stroke="#333" stroke-width="1" />
<text x="497.00" y="280.50" font-size="11" text-anchor="end" font-weight="normal" fill="#111" >50</text>
<line x1="502.30" y1="271.66" x2="504.60" y2="271.66" stroke="#333" stroke-width="1" />
<line x1="502.30" y1="268.22" x2="504.60" y2="268.22" stroke="#333" stroke-width="1" />
<line x1="502.30" y1="264.78" x2="504.60" y2="264.78" stroke="#333" stroke-width="1" />
<line x1="502.30" y1="261.34" x2="504.60" y2="261.34" stroke="#333" stroke-width="1" />
<line x1="500.40" y1="257.90" x2="504.60" y2="257.90" stroke="#333" stroke-width="1" />
<text x="497.00" y="263.30" font-size="11" text-anchor="end" font-weight="normal" fill="#111" >60</text>
<line x1="502.30" y1="254.46" x2="504.60" y2="254.46" stroke="#333" stroke-width="1" />
<line x1="502.30" y1="251.02" x2="504.60" y2="251.02" stroke="#333" stroke-width="1" />
<line x1="502.30" y1="247.58" x2="504.60" y2="247.58" stroke="#333" stroke-width="1" />
<line x1="502.30" y1="244.14" x2="504.60" y2="244.14" stroke="#333" stroke-width="1" />
<line x1="500.40" y1="240.70" x2="504.60" y2="240.70" stroke="#333" stroke-width="1" />
<text x="497.00" y="246.10" font-size="11" text-anchor="end" font-weight="normal" fill="#111" >70</text>
<line x1="502.30" y1="237.26" x2="504.60" y2="237.26" stroke="#333" stroke-width="1" />
<line x1="502.30" y1="233.82" x2="504.60" y2="233.82" stroke="#333" stroke-width="1" />
<line x1="502.30" y1="230.38" x2="504.60" y2="230.38" stroke="#333" stroke-width="1" />
<line x1="502.30" y1="226.94" x2="504.60" y2="226.94" stroke="#333" stroke-width="1" />
<line x1="500.40" y1="223.50" x2="504.60" y2="223.50" stroke="#333" stroke-width="1" />
<text x="497.00" y="228.90" font-size="11" text-anchor="end" font-weight="normal" fill="#111" >80</text>
<line x1="504.60" y1="361.10" x2="504.60" y2="364.90" stroke="#333" stroke-width="1" />
<line x1="517.39" y1="361.10" x2="517.39" y2="363.50" stroke="#333" stroke-width="1" />
<line x1="524.87" y1="361.10" x2="524.87" y2="363.50" stroke="#333" stroke-width="1" />
<line x1="530.17" y1="361.10" x2="530.17" y2="363.50" stroke="#333" stroke-width="1" />
<line x1="534.29" y1="361.10" x2="534.29" y2="363.50" stroke="#333" stroke-width="1" />
<line x1="537.65" y1="361.10" x2="537.65" y2="363.50" stroke="#333" stroke-width="1" />
<line x1="540.50" y1="361.10" x2="540.50" y2="363.50" stroke="#333" stroke-width="1" />
<line x1="542.96" y1="361.10" x2="542.96" y2="363.50" stroke="#333" stroke-width="1" />
<line x1="545.13" y1="361.10" x2="545.13" y2="363.50" stroke="#333" stroke-width="1" />
<line x1="547.08" y1="361.10" x2="547.08" y2="364.90" stroke="#333" stroke-width="1" />
<line x1="559.86" y1="361.10" x2="559.86" y2="363.50" stroke="#333" stroke-width="1" />
<line x1="567.34" y1="361.10" x2="567.34" y2="363.50" stroke="#333" stroke-width="1" />
<line x1="572.65" y1="361.10" x2="572.65" y2="363.50" stroke="#333" stroke-width="1" />
<line x1="576.76" y1="361.10" x2="576.76" y2="363.50" stroke="#333" stroke-width="1" />
<line x1="580.13" y1="361.10" x2="580.13" y2="363.50" stroke="#333" stroke-width="1" />
<line x1="582.97" y1="361.10" x2="582.97" y2="363.50" stroke="#333" stroke-width="1" />
<line x1="585.43" y1="361.10" x2="585.43" y2="363.50" stroke="#333" stroke-width="1" />
<line x1="587.61" y1="361.10" x2="587.61" y2="363.50" stroke="#333" stroke-width="1" />
<line x1="589.55" y1="361.10" x2="589.55" y2="364.90" stroke="#333" stroke-width="1" />
<line x1="602.34" y1="361.10" x2="602.34" y2="363.50" stroke="#333" stroke-width="1" />
<line x1="609.82" y1="361.10" x2="609.82" y2="363.50" stroke="#333" stroke-width="1" />
<line x1="615.12" y1="361.10" x2="615.12" y2="363.50" stroke="#333" stroke-width="1" />
<line x1="619.24" y1="361.10" x2="619.24" y2="363.50" stroke="#333" stroke-width="1" />
<line x1="622.60" y1="361.10" x2="622.60" y2="363.50" stroke="#333" stroke-width="1" />
<line x1="625.45" y1="361.10" x2="625.45" y2="363.50" stroke="#333" stroke-width="1" />
<line x1="627.91" y1="361.10" x2="627.91" y2="363.50" stroke="#333" stroke-width="1" />
<line x1="630.08" y1="361.10" x2="630.08" y2="363.50" stroke="#333" stroke-width="1" />
<line x1="632.02" y1="361.10" x2="632.02" y2="364.90" stroke="#333" stroke-width="1" />
<line x1="644.81" y1="361.10" x2="644.81" y2="363.50" stroke="#333" stroke-width="1" />
<line x1="652.29" y1="361.10" x2="652.29" y2="363.50" stroke="#333" stroke-width="1" />
<line x1="657.60" y1="361.10" x2="657.60" y2="363.50" stroke="#333" stroke-width="1" />
<line x1="661.71" y1="361.10" x2="661.71" y2="363.50" stroke="#333" stroke-width="1" />
<line x1="665.08" y1="361.10" x2="665.08" y2="363.50" stroke="#333" stroke-width="1" />
<line x1="667.92" y1="361.10" x2="667.92" y2="363.50" stroke="#333" stroke-width="1" />
<line x1="670.38" y1="361.10" x2="670.38" y2="363.50" stroke="#333" stroke-width="1" />
<line x1="672.56" y1="361.10" x2="672.56" y2="363.50" stroke="#333" stroke-width="1" />
<line x1="674.50" y1="361.10" x2="674.50" y2="364.90" stroke="#333" stroke-width="1" />
<text x="497.70" y="379.0" font-size="11.6" fill="#111">10<tspan font-size="8.8" dy="-4.5" dx="0.3">0</tspan></text>
<text x="540.18" y="379.0" font-size="11.6" fill="#111">10<tspan font-size="8.8" dy="-4.5" dx="0.3">1</tspan></text>
<text x="582.65" y="379.0" font-size="11.6" fill="#111">10<tspan font-size="8.8" dy="-4.5" dx="0.3">2</tspan></text>
<text x="625.12" y="379.0" font-size="11.6" fill="#111">10<tspan font-size="8.8" dy="-4.5" dx="0.3">3</tspan></text>
<text x="667.60" y="379.0" font-size="11.6" fill="#111">10<tspan font-size="8.8" dy="-4.5" dx="0.3">4</tspan></text>
<text x="572.20" y="395.60" font-size="11" text-anchor="start" font-weight="normal" fill="#111" textLength="32.5" lengthAdjust="spacingAndGlyphs" >FL1-H</text>
<text transform="translate(477.50,295.2) rotate(-90)" font-size="12" text-anchor="middle" fill="#111" textLength="39.3" lengthAdjust="spacingAndGlyphs">Counts</text>
<rect x="564.35" y="233.75" width="1.50" height="1.50" fill="#111" />
<rect x="567.52" y="233.75" width="1.50" height="1.50" fill="#111" />
<rect x="570.69" y="233.75" width="1.50" height="1.50" fill="#111" />
<rect x="573.86" y="233.75" width="1.50" height="1.50" fill="#111" />
<rect x="577.03" y="233.75" width="1.50" height="1.50" fill="#111" />
<rect x="580.20" y="233.75" width="1.50" height="1.50" fill="#111" />
<rect x="583.37" y="233.75" width="1.50" height="1.50" fill="#111" />
<line x1="563.20" y1="251.10" x2="585.70" y2="251.10" stroke="#b5f08a" stroke-width="2.0" />
<line x1="563.60" y1="266.95" x2="584.70" y2="266.95" stroke="#ec12a8" stroke-width="3.2" />
<text x="597.90" y="237.90" font-size="9.6" text-anchor="start" font-weight="normal" fill="#111" >Control</text>
<text x="590.80" y="254.00" font-size="9.4" text-anchor="start" font-weight="normal" fill="#111" textLength="79.5" lengthAdjust="spacingAndGlyphs" >&#8211; Benzyl-&#945;-GalNAc</text>
<text x="590.80" y="270.00" font-size="9.4" text-anchor="start" font-weight="normal" fill="#111" textLength="79.5" lengthAdjust="spacingAndGlyphs" >+ Benzyl-&#945;-GalNAc</text>
<text x="465.00" y="231.60" font-size="16" text-anchor="start" font-weight="bold" fill="#000" >E</text></svg></body></html>
